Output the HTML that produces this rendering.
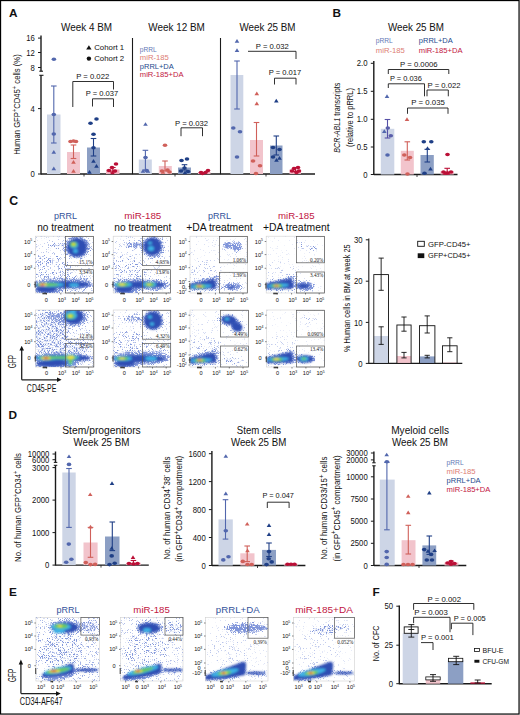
<!DOCTYPE html>
<html><head><meta charset="utf-8"><style>
html,body{margin:0;padding:0;background:#fff;}
body{width:520px;height:715px;overflow:hidden;}
svg{display:block;font-family:"Liberation Sans", sans-serif;color:#111;}

</style></head><body>
<svg width="520" height="715" viewBox="0 0 520 715" fill="#111">
<defs><filter id="bl" x="-20%" y="-20%" width="140%" height="140%"><feGaussianBlur stdDeviation="1.1"/></filter>
<filter id="spk" x="0" y="0" width="520" height="715" filterUnits="userSpaceOnUse" color-interpolation-filters="sRGB">
<feGaussianBlur in="SourceAlpha" stdDeviation="1.5" result="d"/>
<feTurbulence type="fractalNoise" baseFrequency="2.5" numOctaves="1" seed="5" result="n"/>
<feColorMatrix in="n" type="matrix" values="0 0 0 0 0  0 0 0 0 0  0 0 0 0 0  2.2 0 0 0 -0.6" result="na"/>
<feComposite in="d" in2="na" operator="arithmetic" k1="0" k2="2.6" k3="-2.6" k4="0" result="m"/>
<feFlood flood-color="#8095da"/>
<feComposite in2="m" operator="in"/>
<feGaussianBlur stdDeviation="0.55"/>
</filter>
<clipPath id="c0"><rect x="35.40" y="236.20" width="58.10" height="56.80"/></clipPath>
<clipPath id="c1"><rect x="113.20" y="236.20" width="57.20" height="56.80"/></clipPath>
<clipPath id="c2"><rect x="190.00" y="236.20" width="57.30" height="56.80"/></clipPath>
<clipPath id="c3"><rect x="266.20" y="236.20" width="58.40" height="56.80"/></clipPath>
<clipPath id="c4"><rect x="35.60" y="310.00" width="58.20" height="57.00"/></clipPath>
<clipPath id="c5"><rect x="113.20" y="310.00" width="57.50" height="57.00"/></clipPath>
<clipPath id="c6"><rect x="190.00" y="310.00" width="58.50" height="57.00"/></clipPath>
<clipPath id="c7"><rect x="266.60" y="310.00" width="58.00" height="57.00"/></clipPath>
<clipPath id="c8"><rect x="35.90" y="617.30" width="63.70" height="63.70"/></clipPath>
<clipPath id="c9"><rect x="120.50" y="617.30" width="62.50" height="63.70"/></clipPath>
<clipPath id="c10"><rect x="205.50" y="617.30" width="62.50" height="63.70"/></clipPath>
<clipPath id="c11"><rect x="293.50" y="617.30" width="61.00" height="63.70"/></clipPath></defs>
<rect x="0" y="0" width="520" height="715" fill="#fff"/>
<text x="9.00" y="17.30" font-size="11.8" font-weight="bold">A</text>
<text x="86.50" y="31.00" font-size="10.5" text-anchor="middle" textLength="51.0" lengthAdjust="spacingAndGlyphs">Week 4 BM</text>
<text x="176.50" y="31.00" font-size="10.5" text-anchor="middle" textLength="56.5" lengthAdjust="spacingAndGlyphs">Week 12 BM</text>
<text x="267.50" y="31.00" font-size="10.5" text-anchor="middle" textLength="56.0" lengthAdjust="spacingAndGlyphs">Week 25 BM</text>
<text x="20.30" y="104.50" font-size="9.5" text-anchor="middle" textLength="100.5" lengthAdjust="spacingAndGlyphs" transform="rotate(-90 20.30 104.50)">Human GFP<tspan font-size="7" dy="-3.6">+</tspan><tspan dy="3.6">CD45</tspan><tspan font-size="7" dy="-3.6">+</tspan><tspan dy="3.6"> cells (%)</tspan></text>
<line x1="41.00" y1="35.50" x2="41.00" y2="71.30" stroke="#1a1a1a" stroke-width="1.4"/>
<line x1="39.30" y1="71.20" x2="43.00" y2="71.20" stroke="#1a1a1a" stroke-width="1.1"/>
<line x1="39.30" y1="75.30" x2="43.50" y2="75.30" stroke="#1a1a1a" stroke-width="1.1"/>
<line x1="41.00" y1="75.30" x2="41.00" y2="174.50" stroke="#1a1a1a" stroke-width="1.4"/>
<line x1="38.00" y1="38.10" x2="41.00" y2="38.10" stroke="#1a1a1a" stroke-width="1.0"/>
<text x="34.80" y="41.27" font-size="8.8" text-anchor="end" textLength="8.6" lengthAdjust="spacingAndGlyphs">16</text>
<line x1="38.00" y1="52.50" x2="41.00" y2="52.50" stroke="#1a1a1a" stroke-width="1.0"/>
<text x="34.80" y="55.67" font-size="8.8" text-anchor="end" textLength="8.6" lengthAdjust="spacingAndGlyphs">12</text>
<line x1="38.00" y1="67.50" x2="41.00" y2="67.50" stroke="#1a1a1a" stroke-width="1.0"/>
<text x="34.80" y="70.67" font-size="8.8" text-anchor="end" textLength="4.3" lengthAdjust="spacingAndGlyphs">8</text>
<line x1="38.00" y1="108.60" x2="41.00" y2="108.60" stroke="#1a1a1a" stroke-width="1.0"/>
<text x="34.80" y="111.77" font-size="8.8" text-anchor="end" textLength="4.3" lengthAdjust="spacingAndGlyphs">4</text>
<line x1="38.00" y1="174.00" x2="41.00" y2="174.00" stroke="#1a1a1a" stroke-width="1.0"/>
<text x="34.80" y="177.17" font-size="8.8" text-anchor="end" textLength="4.3" lengthAdjust="spacingAndGlyphs">0</text>
<line x1="41.00" y1="174.00" x2="132.50" y2="174.00" stroke="#1a1a1a" stroke-width="1.4"/>
<line x1="84.00" y1="174.00" x2="84.00" y2="176.50" stroke="#1a1a1a" stroke-width="0.8"/>
<line x1="132.50" y1="38.00" x2="132.50" y2="174.50" stroke="#1a1a1a" stroke-width="1.1"/>
<line x1="132.50" y1="174.00" x2="220.50" y2="174.00" stroke="#1a1a1a" stroke-width="1.4"/>
<line x1="175.00" y1="174.00" x2="175.00" y2="176.50" stroke="#1a1a1a" stroke-width="0.8"/>
<line x1="220.50" y1="38.00" x2="220.50" y2="174.50" stroke="#1a1a1a" stroke-width="1.1"/>
<line x1="220.50" y1="174.00" x2="315.00" y2="174.00" stroke="#1a1a1a" stroke-width="1.4"/>
<line x1="266.00" y1="174.00" x2="266.00" y2="176.50" stroke="#1a1a1a" stroke-width="0.8"/>
<path d="M86.21,49.52L91.59,49.52L88.90,45.32Z" fill="#111"/>
<text x="94.20" y="50.40" font-size="7.6" textLength="30.0" lengthAdjust="spacingAndGlyphs">Cohort 1</text>
<ellipse cx="88.90" cy="58.60" rx="2.2" ry="2.2" fill="#111"/>
<text x="94.20" y="61.10" font-size="7.6" textLength="30.0" lengthAdjust="spacingAndGlyphs">Cohort 2</text>
<text x="139.80" y="51.60" font-size="7.4" fill="#6478b5" color="#6478b5" textLength="16.9" lengthAdjust="spacingAndGlyphs">pRRL</text>
<text x="139.80" y="60.20" font-size="7.4" fill="#dd7d74" color="#dd7d74" textLength="29.0" lengthAdjust="spacingAndGlyphs">miR-185</text>
<text x="139.80" y="68.80" font-size="7.4" fill="#264a8d" color="#264a8d" textLength="34.0" lengthAdjust="spacingAndGlyphs">pRRL+DA</text>
<text x="139.80" y="77.40" font-size="7.4" fill="#c2183f" color="#c2183f" textLength="43.8" lengthAdjust="spacingAndGlyphs">miR-185+DA</text>
<rect x="47.00" y="114.50" width="13.50" height="59.50" fill="#cdd5e6"/>
<rect x="67.00" y="152.00" width="13.00" height="22.00" fill="#f2c4cc"/>
<rect x="87.00" y="147.50" width="13.00" height="26.50" fill="#8c9fc4"/>
<rect x="106.00" y="169.50" width="13.50" height="4.50" fill="#f1b3c1"/>
<line x1="53.80" y1="86.00" x2="53.80" y2="143.00" stroke="#5267ad" stroke-width="1.1"/>
<line x1="51.00" y1="86.00" x2="56.60" y2="86.00" stroke="#5267ad" stroke-width="1.1"/>
<line x1="51.00" y1="143.00" x2="56.60" y2="143.00" stroke="#5267ad" stroke-width="1.1"/>
<line x1="73.50" y1="145.00" x2="73.50" y2="158.50" stroke="#d0605a" stroke-width="1.1"/>
<line x1="70.70" y1="145.00" x2="76.30" y2="145.00" stroke="#d0605a" stroke-width="1.1"/>
<line x1="70.70" y1="158.50" x2="76.30" y2="158.50" stroke="#d0605a" stroke-width="1.1"/>
<line x1="93.50" y1="138.50" x2="93.50" y2="156.00" stroke="#1f3f86" stroke-width="1.1"/>
<line x1="90.70" y1="138.50" x2="96.30" y2="138.50" stroke="#1f3f86" stroke-width="1.1"/>
<line x1="90.70" y1="156.00" x2="96.30" y2="156.00" stroke="#1f3f86" stroke-width="1.1"/>
<line x1="112.80" y1="167.50" x2="112.80" y2="172.00" stroke="#bb0f36" stroke-width="1.1"/>
<line x1="110.00" y1="167.50" x2="115.60" y2="167.50" stroke="#bb0f36" stroke-width="1.1"/>
<line x1="110.00" y1="172.00" x2="115.60" y2="172.00" stroke="#bb0f36" stroke-width="1.1"/>
<ellipse cx="53.90" cy="59.20" rx="2.3" ry="1.8" fill="#5267ad"/>
<ellipse cx="53.80" cy="114.50" rx="2.3" ry="1.8" fill="#5267ad"/>
<ellipse cx="53.80" cy="134.00" rx="2.3" ry="1.8" fill="#5267ad"/>
<path d="M51.50,153.64L56.10,153.64L53.80,150.05Z" fill="#5267ad"/>
<path d="M51.50,170.14L56.10,170.14L53.80,166.55Z" fill="#5267ad"/>
<ellipse cx="70.50" cy="141.50" rx="2.3" ry="1.8" fill="#d0605a"/>
<ellipse cx="76.00" cy="141.50" rx="2.3" ry="1.8" fill="#d0605a"/>
<ellipse cx="73.50" cy="141.00" rx="2.3" ry="1.8" fill="#d0605a"/>
<path d="M71.20,163.64L75.80,163.64L73.50,160.05Z" fill="#d0605a"/>
<path d="M71.20,172.64L75.80,172.64L73.50,169.05Z" fill="#d0605a"/>
<ellipse cx="90.50" cy="123.20" rx="2.3" ry="1.8" fill="#1f3f86"/>
<ellipse cx="96.50" cy="119.00" rx="2.3" ry="1.8" fill="#1f3f86"/>
<ellipse cx="93.50" cy="134.20" rx="2.3" ry="1.8" fill="#1f3f86"/>
<ellipse cx="93.50" cy="147.80" rx="2.3" ry="1.8" fill="#1f3f86"/>
<path d="M91.20,162.64L95.80,162.64L93.50,159.05Z" fill="#1f3f86"/>
<path d="M94.20,167.64L98.80,167.64L96.50,164.05Z" fill="#1f3f86"/>
<path d="M87.20,173.64L91.80,173.64L89.50,170.05Z" fill="#1f3f86"/>
<ellipse cx="112.00" cy="167.50" rx="2.3" ry="1.8" fill="#bb0f36"/>
<ellipse cx="116.00" cy="164.00" rx="2.3" ry="1.8" fill="#bb0f36"/>
<ellipse cx="109.00" cy="170.50" rx="2.3" ry="1.8" fill="#bb0f36"/>
<ellipse cx="115.00" cy="171.00" rx="2.3" ry="1.8" fill="#bb0f36"/>
<path d="M110.20,174.14L114.80,174.14L112.50,170.55Z" fill="#bb0f36"/>
<text x="92.70" y="79.20" font-size="7.4" text-anchor="middle" textLength="33.0" lengthAdjust="spacingAndGlyphs">P = 0.022</text>
<polyline points="72.80,107.00 72.80,81.50 113.50,81.50 113.50,89.50" fill="none" stroke="#1a1a1a" stroke-width="0.9"/>
<text x="102.00" y="96.40" font-size="7.4" text-anchor="middle" textLength="32.5" lengthAdjust="spacingAndGlyphs">P = 0.037</text>
<polyline points="92.50,106.50 92.50,98.80 113.50,98.80 113.50,107.00" fill="none" stroke="#1a1a1a" stroke-width="0.9"/>
<rect x="138.80" y="159.50" width="13.00" height="14.50" fill="#cdd5e6"/>
<rect x="158.80" y="166.00" width="13.00" height="8.00" fill="#f2c4cc"/>
<rect x="178.00" y="167.50" width="13.00" height="6.50" fill="#8c9fc4"/>
<rect x="198.00" y="172.00" width="12.50" height="2.00" fill="#f1b3c1"/>
<line x1="145.40" y1="150.30" x2="145.40" y2="170.00" stroke="#5267ad" stroke-width="1.1"/>
<line x1="142.60" y1="150.30" x2="148.20" y2="150.30" stroke="#5267ad" stroke-width="1.1"/>
<line x1="142.60" y1="170.00" x2="148.20" y2="170.00" stroke="#5267ad" stroke-width="1.1"/>
<line x1="165.00" y1="161.00" x2="165.00" y2="171.00" stroke="#d0605a" stroke-width="1.1"/>
<line x1="162.20" y1="161.00" x2="167.80" y2="161.00" stroke="#d0605a" stroke-width="1.1"/>
<line x1="162.20" y1="171.00" x2="167.80" y2="171.00" stroke="#d0605a" stroke-width="1.1"/>
<line x1="184.50" y1="164.70" x2="184.50" y2="170.00" stroke="#1f3f86" stroke-width="1.1"/>
<line x1="181.70" y1="164.70" x2="187.30" y2="164.70" stroke="#1f3f86" stroke-width="1.1"/>
<line x1="181.70" y1="170.00" x2="187.30" y2="170.00" stroke="#1f3f86" stroke-width="1.1"/>
<path d="M143.20,125.84L147.80,125.84L145.50,122.25Z" fill="#5267ad"/>
<ellipse cx="145.50" cy="157.50" rx="2.3" ry="1.8" fill="#5267ad"/>
<path d="M140.70,172.64L145.30,172.64L143.00,169.05Z" fill="#5267ad"/>
<ellipse cx="146.50" cy="170.50" rx="2.3" ry="1.8" fill="#5267ad"/>
<path d="M145.70,172.84L150.30,172.84L148.00,169.25Z" fill="#5267ad"/>
<ellipse cx="165.00" cy="145.20" rx="2.3" ry="1.8" fill="#d0605a"/>
<ellipse cx="162.00" cy="171.00" rx="2.3" ry="1.8" fill="#d0605a"/>
<ellipse cx="167.50" cy="170.00" rx="2.3" ry="1.8" fill="#d0605a"/>
<ellipse cx="169.50" cy="172.00" rx="2.3" ry="1.8" fill="#d0605a"/>
<path d="M160.70,173.64L165.30,173.64L163.00,170.05Z" fill="#d0605a"/>
<ellipse cx="181.50" cy="160.50" rx="2.3" ry="1.8" fill="#1f3f86"/>
<ellipse cx="187.00" cy="159.00" rx="2.3" ry="1.8" fill="#1f3f86"/>
<ellipse cx="184.50" cy="168.00" rx="2.3" ry="1.8" fill="#1f3f86"/>
<ellipse cx="181.00" cy="171.00" rx="2.3" ry="1.8" fill="#1f3f86"/>
<ellipse cx="188.00" cy="171.50" rx="2.3" ry="1.8" fill="#1f3f86"/>
<path d="M182.70,174.14L187.30,174.14L185.00,170.55Z" fill="#1f3f86"/>
<ellipse cx="201.00" cy="172.50" rx="2.3" ry="1.8" fill="#bb0f36"/>
<ellipse cx="205.50" cy="172.50" rx="2.3" ry="1.8" fill="#bb0f36"/>
<ellipse cx="208.00" cy="170.50" rx="2.3" ry="1.8" fill="#bb0f36"/>
<ellipse cx="202.50" cy="173.50" rx="2.3" ry="1.8" fill="#bb0f36"/>
<text x="191.50" y="125.70" font-size="7.4" text-anchor="middle" textLength="33.0" lengthAdjust="spacingAndGlyphs">P = 0.032</text>
<polyline points="181.00,136.20 181.00,127.80 202.50,127.80 202.50,136.20" fill="none" stroke="#1a1a1a" stroke-width="0.9"/>
<rect x="230.50" y="75.00" width="12.80" height="99.00" fill="#cdd5e6"/>
<rect x="250.00" y="140.00" width="13.00" height="34.00" fill="#f2c4cc"/>
<rect x="270.00" y="145.50" width="12.50" height="28.50" fill="#8c9fc4"/>
<rect x="289.50" y="169.50" width="11.50" height="4.50" fill="#f1b3c1"/>
<line x1="237.00" y1="61.00" x2="237.00" y2="109.00" stroke="#5267ad" stroke-width="1.1"/>
<line x1="234.20" y1="61.00" x2="239.80" y2="61.00" stroke="#5267ad" stroke-width="1.1"/>
<line x1="234.20" y1="109.00" x2="239.80" y2="109.00" stroke="#5267ad" stroke-width="1.1"/>
<line x1="256.50" y1="122.50" x2="256.50" y2="156.00" stroke="#d0605a" stroke-width="1.1"/>
<line x1="253.70" y1="122.50" x2="259.30" y2="122.50" stroke="#d0605a" stroke-width="1.1"/>
<line x1="253.70" y1="156.00" x2="259.30" y2="156.00" stroke="#d0605a" stroke-width="1.1"/>
<line x1="276.30" y1="136.00" x2="276.30" y2="155.00" stroke="#1f3f86" stroke-width="1.1"/>
<line x1="273.50" y1="136.00" x2="279.10" y2="136.00" stroke="#1f3f86" stroke-width="1.1"/>
<line x1="273.50" y1="155.00" x2="279.10" y2="155.00" stroke="#1f3f86" stroke-width="1.1"/>
<line x1="295.50" y1="167.50" x2="295.50" y2="171.50" stroke="#bb0f36" stroke-width="1.1"/>
<line x1="293.00" y1="167.50" x2="298.00" y2="167.50" stroke="#bb0f36" stroke-width="1.1"/>
<line x1="293.00" y1="171.50" x2="298.00" y2="171.50" stroke="#bb0f36" stroke-width="1.1"/>
<path d="M234.70,42.64L239.30,42.64L237.00,39.05Z" fill="#5267ad"/>
<path d="M234.70,51.94L239.30,51.94L237.00,48.35Z" fill="#5267ad"/>
<ellipse cx="233.30" cy="128.00" rx="2.3" ry="1.8" fill="#5267ad"/>
<ellipse cx="240.00" cy="131.80" rx="2.3" ry="1.8" fill="#5267ad"/>
<ellipse cx="237.00" cy="157.00" rx="2.3" ry="1.8" fill="#5267ad"/>
<path d="M254.50,95.14L259.10,95.14L256.80,91.55Z" fill="#d0605a"/>
<path d="M254.50,105.14L259.10,105.14L256.80,101.55Z" fill="#d0605a"/>
<ellipse cx="253.00" cy="161.00" rx="2.3" ry="1.8" fill="#d0605a"/>
<ellipse cx="260.00" cy="165.80" rx="2.3" ry="1.8" fill="#d0605a"/>
<ellipse cx="256.00" cy="173.50" rx="2.3" ry="1.8" fill="#d0605a"/>
<path d="M274.00,102.44L278.60,102.44L276.30,98.85Z" fill="#1f3f86"/>
<ellipse cx="273.00" cy="147.50" rx="2.3" ry="1.8" fill="#1f3f86"/>
<ellipse cx="279.50" cy="149.50" rx="2.3" ry="1.8" fill="#1f3f86"/>
<ellipse cx="273.00" cy="157.00" rx="2.3" ry="1.8" fill="#1f3f86"/>
<path d="M277.20,159.64L281.80,159.64L279.50,156.05Z" fill="#1f3f86"/>
<path d="M274.20,161.64L278.80,161.64L276.50,158.05Z" fill="#1f3f86"/>
<ellipse cx="294.00" cy="168.50" rx="2.3" ry="1.8" fill="#bb0f36"/>
<ellipse cx="298.00" cy="167.50" rx="2.3" ry="1.8" fill="#bb0f36"/>
<ellipse cx="292.00" cy="171.00" rx="2.3" ry="1.8" fill="#bb0f36"/>
<ellipse cx="296.50" cy="172.50" rx="2.3" ry="1.8" fill="#bb0f36"/>
<ellipse cx="299.00" cy="171.00" rx="2.3" ry="1.8" fill="#bb0f36"/>
<text x="272.30" y="49.00" font-size="7.4" text-anchor="middle" textLength="33.0" lengthAdjust="spacingAndGlyphs">P = 0.032</text>
<polyline points="248.00,51.30 296.00,51.30 296.00,59.00" fill="none" stroke="#1a1a1a" stroke-width="0.9"/>
<text x="285.00" y="75.00" font-size="7.4" text-anchor="middle" textLength="32.5" lengthAdjust="spacingAndGlyphs">P = 0.017</text>
<polyline points="274.50,84.50 274.50,78.20 296.00,78.20 296.00,84.50" fill="none" stroke="#1a1a1a" stroke-width="0.9"/>
<text x="332.50" y="17.20" font-size="11.8" font-weight="bold">B</text>
<text x="416.00" y="31.20" font-size="10.5" text-anchor="middle" textLength="56.0" lengthAdjust="spacingAndGlyphs">Week 25 BM</text>
<text x="375.80" y="43.00" font-size="7.4" fill="#6478b5" color="#6478b5" textLength="17.0" lengthAdjust="spacingAndGlyphs">pRRL</text>
<text x="375.80" y="52.50" font-size="7.4" fill="#dd7d74" color="#dd7d74" textLength="29.0" lengthAdjust="spacingAndGlyphs">miR-185</text>
<text x="418.80" y="43.00" font-size="7.4" fill="#264a8d" color="#264a8d" textLength="34.0" lengthAdjust="spacingAndGlyphs">pRRL+DA</text>
<text x="418.80" y="52.50" font-size="7.4" fill="#c2183f" color="#c2183f" textLength="43.8" lengthAdjust="spacingAndGlyphs">miR-185+DA</text>
<line x1="373.80" y1="61.00" x2="373.80" y2="175.00" stroke="#1a1a1a" stroke-width="1.4"/>
<line x1="373.80" y1="174.50" x2="457.50" y2="174.50" stroke="#1a1a1a" stroke-width="1.4"/>
<line x1="417.00" y1="174.50" x2="417.00" y2="177.00" stroke="#1a1a1a" stroke-width="0.8"/>
<line x1="370.80" y1="63.30" x2="373.80" y2="63.30" stroke="#1a1a1a" stroke-width="1.0"/>
<text x="367.60" y="66.47" font-size="8.8" text-anchor="end" textLength="10.8" lengthAdjust="spacingAndGlyphs">2.0</text>
<line x1="370.80" y1="91.30" x2="373.80" y2="91.30" stroke="#1a1a1a" stroke-width="1.0"/>
<text x="367.60" y="94.47" font-size="8.8" text-anchor="end" textLength="10.8" lengthAdjust="spacingAndGlyphs">1.5</text>
<line x1="370.80" y1="119.30" x2="373.80" y2="119.30" stroke="#1a1a1a" stroke-width="1.0"/>
<text x="367.60" y="122.47" font-size="8.8" text-anchor="end" textLength="10.8" lengthAdjust="spacingAndGlyphs">1.0</text>
<line x1="370.80" y1="147.00" x2="373.80" y2="147.00" stroke="#1a1a1a" stroke-width="1.0"/>
<text x="367.60" y="150.17" font-size="8.8" text-anchor="end" textLength="10.8" lengthAdjust="spacingAndGlyphs">0.5</text>
<line x1="370.80" y1="174.50" x2="373.80" y2="174.50" stroke="#1a1a1a" stroke-width="1.0"/>
<text x="367.60" y="177.67" font-size="8.8" text-anchor="end" textLength="4.3" lengthAdjust="spacingAndGlyphs">0</text>
<text x="340.30" y="117.70" font-size="9.3" text-anchor="middle" textLength="70.0" lengthAdjust="spacingAndGlyphs" transform="rotate(-90 340.30 117.70)"><tspan font-style="italic">BCR-ABL1</tspan> transcripts</text>
<text x="352.60" y="117.50" font-size="9.3" text-anchor="middle" textLength="59.0" lengthAdjust="spacingAndGlyphs" transform="rotate(-90 352.60 117.50)">(relative to pRRL)</text>
<rect x="380.80" y="128.80" width="13.50" height="45.70" fill="#cdd5e6"/>
<rect x="400.80" y="150.80" width="13.00" height="23.70" fill="#f2c4cc"/>
<rect x="420.50" y="155.00" width="13.30" height="19.50" fill="#8c9fc4"/>
<rect x="440.50" y="171.20" width="13.30" height="3.30" fill="#f1b3c1"/>
<line x1="387.50" y1="119.50" x2="387.50" y2="138.00" stroke="#5650a6" stroke-width="1.1"/>
<line x1="384.70" y1="119.50" x2="390.30" y2="119.50" stroke="#5650a6" stroke-width="1.1"/>
<line x1="384.70" y1="138.00" x2="390.30" y2="138.00" stroke="#5650a6" stroke-width="1.1"/>
<line x1="407.30" y1="141.80" x2="407.30" y2="160.00" stroke="#d0605a" stroke-width="1.1"/>
<line x1="404.50" y1="141.80" x2="410.10" y2="141.80" stroke="#d0605a" stroke-width="1.1"/>
<line x1="404.50" y1="160.00" x2="410.10" y2="160.00" stroke="#d0605a" stroke-width="1.1"/>
<line x1="427.30" y1="149.30" x2="427.30" y2="162.00" stroke="#1f3f86" stroke-width="1.1"/>
<line x1="424.50" y1="149.30" x2="430.10" y2="149.30" stroke="#1f3f86" stroke-width="1.1"/>
<line x1="424.50" y1="162.00" x2="430.10" y2="162.00" stroke="#1f3f86" stroke-width="1.1"/>
<line x1="447.20" y1="168.30" x2="447.20" y2="174.00" stroke="#bb0f36" stroke-width="1.1"/>
<line x1="444.40" y1="168.30" x2="450.00" y2="168.30" stroke="#bb0f36" stroke-width="1.1"/>
<line x1="444.40" y1="174.00" x2="450.00" y2="174.00" stroke="#bb0f36" stroke-width="1.1"/>
<path d="M384.70,97.94L389.30,97.94L387.00,94.35Z" fill="#5267ad"/>
<path d="M382.00,132.94L386.60,132.94L384.30,129.35Z" fill="#5267ad"/>
<ellipse cx="387.80" cy="128.00" rx="2.3" ry="1.8" fill="#5a5eaa"/>
<ellipse cx="390.80" cy="135.80" rx="2.3" ry="1.8" fill="#5a5eaa"/>
<ellipse cx="387.50" cy="155.00" rx="2.3" ry="1.8" fill="#5267ad"/>
<path d="M404.70,120.94L409.30,120.94L407.00,117.35Z" fill="#d0605a"/>
<ellipse cx="404.30" cy="155.00" rx="2.3" ry="1.8" fill="#d0605a"/>
<ellipse cx="410.00" cy="157.50" rx="2.3" ry="1.8" fill="#d0605a"/>
<ellipse cx="407.50" cy="174.00" rx="2.3" ry="1.8" fill="#d0605a"/>
<ellipse cx="423.80" cy="141.80" rx="2.3" ry="1.8" fill="#1f3f86"/>
<ellipse cx="431.30" cy="141.80" rx="2.3" ry="1.8" fill="#1f3f86"/>
<path d="M425.20,149.94L429.80,149.94L427.50,146.35Z" fill="#1f3f86"/>
<path d="M428.20,170.44L432.80,170.44L430.50,166.85Z" fill="#1f3f86"/>
<ellipse cx="424.50" cy="173.30" rx="2.3" ry="1.8" fill="#1f3f86"/>
<ellipse cx="447.50" cy="154.50" rx="2.3" ry="1.8" fill="#bb0f36"/>
<ellipse cx="443.50" cy="172.00" rx="2.3" ry="1.8" fill="#bb0f36"/>
<ellipse cx="447.50" cy="173.00" rx="2.3" ry="1.8" fill="#bb0f36"/>
<ellipse cx="451.00" cy="172.00" rx="2.3" ry="1.8" fill="#bb0f36"/>
<path d="M442.70,174.64L447.30,174.64L445.00,171.05Z" fill="#bb0f36"/>
<text x="418.80" y="66.70" font-size="7.4" text-anchor="middle" textLength="37.5" lengthAdjust="spacingAndGlyphs">P = 0.0006</text>
<polyline points="388.30,74.00 388.30,69.50 448.80,69.50 448.80,74.00" fill="none" stroke="#1a1a1a" stroke-width="0.9"/>
<text x="405.90" y="81.20" font-size="7.4" text-anchor="middle" textLength="32.0" lengthAdjust="spacingAndGlyphs">P = 0.036</text>
<polyline points="388.30,88.00 388.30,83.80 424.50,83.80 424.50,96.30" fill="none" stroke="#1a1a1a" stroke-width="0.9"/>
<text x="444.00" y="87.50" font-size="7.4" text-anchor="middle" textLength="33.0" lengthAdjust="spacingAndGlyphs">P = 0.022</text>
<polyline points="427.00,96.30 427.00,90.00 448.30,90.00 448.30,96.30" fill="none" stroke="#1a1a1a" stroke-width="0.9"/>
<text x="428.10" y="105.20" font-size="7.4" text-anchor="middle" textLength="33.5" lengthAdjust="spacingAndGlyphs">P = 0.035</text>
<polyline points="407.50,113.80 407.50,108.00 448.00,108.00 448.00,113.80" fill="none" stroke="#1a1a1a" stroke-width="0.9"/>
<text x="9.20" y="205.30" font-size="12.3" font-weight="bold">C</text>
<text x="65.50" y="219.30" font-size="9.8" text-anchor="middle" fill="#33539b" color="#33539b" textLength="23.0" lengthAdjust="spacingAndGlyphs">pRRL</text>
<text x="65.50" y="230.80" font-size="10.5" text-anchor="middle" textLength="56.6" lengthAdjust="spacingAndGlyphs">no treatment</text>
<text x="142.80" y="219.30" font-size="9.8" text-anchor="middle" fill="#bf1641" color="#bf1641" textLength="37.0" lengthAdjust="spacingAndGlyphs">miR-185</text>
<text x="142.80" y="230.80" font-size="10.5" text-anchor="middle" textLength="57.0" lengthAdjust="spacingAndGlyphs">no treatment</text>
<text x="219.40" y="219.30" font-size="9.8" text-anchor="middle" fill="#33539b" color="#33539b" textLength="23.0" lengthAdjust="spacingAndGlyphs">pRRL</text>
<text x="219.40" y="230.80" font-size="10.5" text-anchor="middle" textLength="66.5" lengthAdjust="spacingAndGlyphs">+DA treatment</text>
<text x="296.30" y="219.30" font-size="9.8" text-anchor="middle" fill="#bf1641" color="#bf1641" textLength="36.5" lengthAdjust="spacingAndGlyphs">miR-185</text>
<text x="296.30" y="230.80" font-size="10.5" text-anchor="middle" textLength="66.5" lengthAdjust="spacingAndGlyphs">+DA treatment</text>
<rect x="35.40" y="236.20" width="58.10" height="56.80" fill="#fff" stroke="#cfcfcf" stroke-width="0.6"/>
<g clip-path="url(#c0)"><g filter="url(#spk)">
<rect x="32.40" y="233.20" width="64.10" height="62.80" fill-opacity="0.19"/>
<ellipse cx="50" cy="270" rx="22" ry="16" fill-opacity="0.31"/>
<ellipse cx="57" cy="245.5" rx="9" ry="2.5" fill-opacity="0.56"/>
<ellipse cx="77" cy="247" rx="14" ry="12" fill-opacity="0.69"/>
<ellipse cx="62" cy="284.5" rx="32" ry="6" fill-opacity="0.75"/>
<ellipse cx="80" cy="283" rx="12" ry="8" fill-opacity="0.44"/>
<ellipse cx="48" cy="290" rx="14" ry="4" fill-opacity="1.00"/>
</g><g filter="url(#bl)">
<ellipse cx="77" cy="247.5" rx="10" ry="9.5" fill="#2d4db3"/>
<ellipse cx="62" cy="284.7" rx="28" ry="3.4" transform="rotate(-1 62 284.7)" fill="#2d4db3"/>
<ellipse cx="46" cy="289.5" rx="10" ry="3" fill="#2d4db3"/>
<ellipse cx="74" cy="245" rx="4" ry="3.2" fill="#3cb3e6"/>
<ellipse cx="75.5" cy="251" rx="2.5" ry="2" fill="#3cb3e6"/>
<ellipse cx="50" cy="284.7" rx="14" ry="2.2" fill="#3cb3e6"/>
<ellipse cx="74" cy="285" rx="5" ry="1.8" fill="#3cb3e6"/>
<ellipse cx="73.5" cy="244.5" rx="3.2" ry="2.4" fill="#6ac94f"/>
<ellipse cx="48" cy="284.7" rx="11" ry="1.5" fill="#6ac94f"/>
<ellipse cx="73.5" cy="244.2" rx="1.5" ry="1.2" fill="#efe13a"/>
<ellipse cx="43" cy="284.7" rx="4" ry="1.4" fill="#efe13a"/>
<ellipse cx="42.5" cy="284.7" rx="2" ry="1" fill="#e5482b"/>
</g></g>
<rect x="65.40" y="236.50" width="28.10" height="28.90" fill="none" stroke="#555" stroke-width="0.7"/>
<rect x="65.40" y="269.70" width="28.10" height="23.30" fill="none" stroke="#555" stroke-width="0.7"/>
<text x="92.30" y="274.40" font-size="5.2" text-anchor="end" fill="#1a1a1a" color="#1a1a1a" font-family="Liberation Serif">3.34%</text>
<text x="92.30" y="264.10" font-size="5.2" text-anchor="end" fill="#1a1a1a" color="#1a1a1a" font-family="Liberation Serif">15.1%</text>
<line x1="33.90" y1="241.50" x2="35.40" y2="241.50" stroke="#333" stroke-width="0.6"/>
<text x="32.20" y="243.50" font-size="5.6" text-anchor="end">10<tspan font-size="3.47" dy="-2.13">5</tspan></text>
<line x1="33.90" y1="254.60" x2="35.40" y2="254.60" stroke="#333" stroke-width="0.6"/>
<text x="32.20" y="256.60" font-size="5.6" text-anchor="end">10<tspan font-size="3.47" dy="-2.13">4</tspan></text>
<line x1="33.90" y1="268.30" x2="35.40" y2="268.30" stroke="#333" stroke-width="0.6"/>
<text x="32.20" y="270.30" font-size="5.6" text-anchor="end">10<tspan font-size="3.47" dy="-2.13">3</tspan></text>
<line x1="33.90" y1="284.60" x2="35.40" y2="284.60" stroke="#333" stroke-width="0.6"/>
<text x="30.40" y="286.60" font-size="5.6" text-anchor="end">0</text>
<line x1="46.40" y1="293.00" x2="46.40" y2="294.50" stroke="#333" stroke-width="0.6"/>
<text x="46.40" y="302.00" font-size="5.6" text-anchor="middle">0</text>
<line x1="60.80" y1="293.00" x2="60.80" y2="294.50" stroke="#333" stroke-width="0.6"/>
<text x="61.80" y="302.00" font-size="5.6" text-anchor="middle">10<tspan font-size="3.47" dy="-2.13">3</tspan></text>
<line x1="74.70" y1="293.00" x2="74.70" y2="294.50" stroke="#333" stroke-width="0.6"/>
<text x="75.70" y="302.00" font-size="5.6" text-anchor="middle">10<tspan font-size="3.47" dy="-2.13">4</tspan></text>
<line x1="88.40" y1="293.00" x2="88.40" y2="294.50" stroke="#333" stroke-width="0.6"/>
<text x="89.40" y="302.00" font-size="5.6" text-anchor="middle">10<tspan font-size="3.47" dy="-2.13">5</tspan></text>
<rect x="113.20" y="236.20" width="57.20" height="56.80" fill="#fff" stroke="#cfcfcf" stroke-width="0.6"/>
<g clip-path="url(#c1)"><g filter="url(#spk)">
<rect x="110.20" y="233.20" width="63.20" height="62.80" fill-opacity="0.19"/>
<ellipse cx="128" cy="270" rx="20" ry="14" fill-opacity="0.28"/>
<ellipse cx="134" cy="245" rx="9" ry="3.5" fill-opacity="0.75"/>
<ellipse cx="153" cy="247" rx="12" ry="12" fill-opacity="0.69"/>
<ellipse cx="140" cy="284.5" rx="32" ry="6" fill-opacity="0.75"/>
<ellipse cx="157" cy="286" rx="10" ry="6" fill-opacity="0.50"/>
<ellipse cx="126" cy="290" rx="13" ry="4" fill-opacity="1.00"/>
</g><g filter="url(#bl)">
<ellipse cx="152.5" cy="246.5" rx="9" ry="9" fill="#2d4db3"/>
<ellipse cx="139" cy="284.7" rx="26" ry="3.4" fill="#2d4db3"/>
<ellipse cx="124" cy="289.5" rx="9" ry="3" fill="#2d4db3"/>
<ellipse cx="151" cy="248.5" rx="3" ry="2.5" fill="#3cb3e6"/>
<ellipse cx="150" cy="243" rx="2" ry="1.5" fill="#3cb3e6"/>
<ellipse cx="123" cy="284.5" rx="9" ry="2.3" fill="#3cb3e6"/>
<ellipse cx="149.5" cy="284.5" rx="7" ry="2.5" fill="#3cb3e6"/>
<ellipse cx="122.5" cy="284.5" rx="6" ry="1.8" fill="#6ac94f"/>
<ellipse cx="149.5" cy="284.5" rx="4.5" ry="1.8" fill="#6ac94f"/>
<ellipse cx="122" cy="284.5" rx="3" ry="1.2" fill="#efe13a"/>
<ellipse cx="149" cy="284.5" rx="2" ry="1" fill="#efe13a"/>
</g></g>
<rect x="142.40" y="236.50" width="28.00" height="28.90" fill="none" stroke="#555" stroke-width="0.7"/>
<rect x="142.40" y="269.70" width="28.00" height="23.30" fill="none" stroke="#555" stroke-width="0.7"/>
<text x="169.20" y="274.40" font-size="5.2" text-anchor="end" fill="#1a1a1a" color="#1a1a1a" font-family="Liberation Serif">13.9%</text>
<text x="169.20" y="264.10" font-size="5.2" text-anchor="end" fill="#1a1a1a" color="#1a1a1a" font-family="Liberation Serif">4.93%</text>
<line x1="111.70" y1="241.50" x2="113.20" y2="241.50" stroke="#333" stroke-width="0.6"/>
<text x="110.00" y="243.50" font-size="5.6" text-anchor="end">10<tspan font-size="3.47" dy="-2.13">5</tspan></text>
<line x1="111.70" y1="254.60" x2="113.20" y2="254.60" stroke="#333" stroke-width="0.6"/>
<text x="110.00" y="256.60" font-size="5.6" text-anchor="end">10<tspan font-size="3.47" dy="-2.13">4</tspan></text>
<line x1="111.70" y1="268.30" x2="113.20" y2="268.30" stroke="#333" stroke-width="0.6"/>
<text x="110.00" y="270.30" font-size="5.6" text-anchor="end">10<tspan font-size="3.47" dy="-2.13">3</tspan></text>
<line x1="111.70" y1="284.60" x2="113.20" y2="284.60" stroke="#333" stroke-width="0.6"/>
<text x="108.20" y="286.60" font-size="5.6" text-anchor="end">0</text>
<line x1="124.20" y1="293.00" x2="124.20" y2="294.50" stroke="#333" stroke-width="0.6"/>
<text x="124.20" y="302.00" font-size="5.6" text-anchor="middle">0</text>
<line x1="138.60" y1="293.00" x2="138.60" y2="294.50" stroke="#333" stroke-width="0.6"/>
<text x="139.60" y="302.00" font-size="5.6" text-anchor="middle">10<tspan font-size="3.47" dy="-2.13">3</tspan></text>
<line x1="152.50" y1="293.00" x2="152.50" y2="294.50" stroke="#333" stroke-width="0.6"/>
<text x="153.50" y="302.00" font-size="5.6" text-anchor="middle">10<tspan font-size="3.47" dy="-2.13">4</tspan></text>
<line x1="166.20" y1="293.00" x2="166.20" y2="294.50" stroke="#333" stroke-width="0.6"/>
<text x="167.20" y="302.00" font-size="5.6" text-anchor="middle">10<tspan font-size="3.47" dy="-2.13">5</tspan></text>
<rect x="190.00" y="236.20" width="57.30" height="56.80" fill="#fff" stroke="#cfcfcf" stroke-width="0.6"/>
<g clip-path="url(#c2)"><g filter="url(#spk)">
<rect x="187.00" y="233.20" width="63.30" height="62.80" fill-opacity="0.11"/>
<ellipse cx="205" cy="272" rx="18" ry="12" fill-opacity="0.16"/>
<ellipse cx="228" cy="245.5" rx="5.5" ry="4" fill-opacity="1.00"/>
<ellipse cx="237" cy="247.5" rx="5" ry="5" fill-opacity="1.00"/>
<path d="M190,282 L217,275 Q221,283 218,290 L190,291 Z" fill-opacity="0.75"/>
<ellipse cx="233" cy="286.5" rx="9" ry="4" fill-opacity="1.00"/>
<ellipse cx="223" cy="287" rx="5" ry="3" fill-opacity="0.56"/>
</g><g filter="url(#bl)">
<path d="M190,284 L214,279 Q217,283.5 215.5,288.5 L190,289 Z" fill="#2d4db3"/>
<ellipse cx="231" cy="287" rx="3" ry="1.2" fill="#2d4db3"/>
<ellipse cx="201" cy="286.2" rx="11" ry="1.9" transform="rotate(-3 201 286.2)" fill="#3cb3e6"/>
<ellipse cx="200" cy="286.2" rx="5.5" ry="1.5" fill="#6ac94f"/>
<ellipse cx="199.5" cy="286.2" rx="3" ry="1.1" fill="#efe13a"/>
<ellipse cx="199.3" cy="286.1" rx="1.5" ry="0.8" fill="#e5482b"/>
</g></g>
<rect x="219.60" y="236.50" width="27.70" height="26.30" fill="none" stroke="#555" stroke-width="0.7"/>
<rect x="219.60" y="272.30" width="27.70" height="20.70" fill="none" stroke="#555" stroke-width="0.7"/>
<text x="246.10" y="277.00" font-size="5.2" text-anchor="end" fill="#1a1a1a" color="#1a1a1a" font-family="Liberation Serif">1.39%</text>
<text x="246.10" y="261.50" font-size="5.2" text-anchor="end" fill="#1a1a1a" color="#1a1a1a" font-family="Liberation Serif">1.06%</text>
<line x1="188.50" y1="241.50" x2="190.00" y2="241.50" stroke="#333" stroke-width="0.6"/>
<text x="186.80" y="243.50" font-size="5.6" text-anchor="end">10<tspan font-size="3.47" dy="-2.13">5</tspan></text>
<line x1="188.50" y1="254.60" x2="190.00" y2="254.60" stroke="#333" stroke-width="0.6"/>
<text x="186.80" y="256.60" font-size="5.6" text-anchor="end">10<tspan font-size="3.47" dy="-2.13">4</tspan></text>
<line x1="188.50" y1="267.70" x2="190.00" y2="267.70" stroke="#333" stroke-width="0.6"/>
<text x="186.80" y="269.70" font-size="5.6" text-anchor="end">10<tspan font-size="3.47" dy="-2.13">3</tspan></text>
<line x1="188.50" y1="281.50" x2="190.00" y2="281.50" stroke="#333" stroke-width="0.6"/>
<text x="186.80" y="283.50" font-size="5.6" text-anchor="end">10<tspan font-size="3.47" dy="-2.13">2</tspan></text>
<line x1="188.50" y1="286.50" x2="190.00" y2="286.50" stroke="#333" stroke-width="0.6"/>
<text x="185.00" y="288.50" font-size="5.6" text-anchor="end">0</text>
<line x1="188.50" y1="291.50" x2="190.00" y2="291.50" stroke="#333" stroke-width="0.6"/>
<text x="186.80" y="293.50" font-size="5.6" text-anchor="end">-10<tspan font-size="3.47" dy="-2.13">2</tspan></text>
<line x1="201.00" y1="293.00" x2="201.00" y2="294.50" stroke="#333" stroke-width="0.6"/>
<text x="201.00" y="302.00" font-size="5.6" text-anchor="middle">0</text>
<line x1="215.40" y1="293.00" x2="215.40" y2="294.50" stroke="#333" stroke-width="0.6"/>
<text x="216.40" y="302.00" font-size="5.6" text-anchor="middle">10<tspan font-size="3.47" dy="-2.13">3</tspan></text>
<line x1="229.30" y1="293.00" x2="229.30" y2="294.50" stroke="#333" stroke-width="0.6"/>
<text x="230.30" y="302.00" font-size="5.6" text-anchor="middle">10<tspan font-size="3.47" dy="-2.13">4</tspan></text>
<line x1="243.00" y1="293.00" x2="243.00" y2="294.50" stroke="#333" stroke-width="0.6"/>
<text x="244.00" y="302.00" font-size="5.6" text-anchor="middle">10<tspan font-size="3.47" dy="-2.13">5</tspan></text>
<rect x="266.20" y="236.20" width="58.40" height="56.80" fill="#fff" stroke="#cfcfcf" stroke-width="0.6"/>
<g clip-path="url(#c3)"><g filter="url(#spk)">
<rect x="263.20" y="233.20" width="64.40" height="62.80" fill-opacity="0.08"/>
<ellipse cx="282" cy="272" rx="18" ry="12" fill-opacity="0.12"/>
<ellipse cx="301" cy="245" rx="5" ry="3" fill-opacity="0.50"/>
<ellipse cx="312" cy="248" rx="5" ry="3" fill-opacity="0.50"/>
<path d="M266,282 L294,275 Q298,283 295,290 L266,291 Z" fill-opacity="0.75"/>
<ellipse cx="305" cy="286" rx="10" ry="5" fill-opacity="0.94"/>
</g><g filter="url(#bl)">
<path d="M266,283.5 L291,278.5 Q294,283.5 292.5,288.5 L266,289 Z" fill="#2d4db3"/>
<ellipse cx="303.5" cy="286" rx="6" ry="2.3" fill="#2d4db3"/>
<ellipse cx="278" cy="285.6" rx="11" ry="1.9" transform="rotate(-3 278 285.6)" fill="#3cb3e6"/>
<ellipse cx="277" cy="285.7" rx="5.5" ry="1.5" fill="#6ac94f"/>
<ellipse cx="276.6" cy="285.7" rx="3" ry="1.1" fill="#efe13a"/>
<ellipse cx="276.5" cy="285.7" rx="1.5" ry="0.8" fill="#e5482b"/>
</g></g>
<rect x="296.50" y="236.50" width="28.10" height="26.30" fill="none" stroke="#555" stroke-width="0.7"/>
<rect x="296.50" y="272.00" width="28.10" height="21.00" fill="none" stroke="#555" stroke-width="0.7"/>
<text x="323.40" y="276.70" font-size="5.2" text-anchor="end" fill="#1a1a1a" color="#1a1a1a" font-family="Liberation Serif">3.43%</text>
<text x="323.40" y="261.50" font-size="5.2" text-anchor="end" fill="#1a1a1a" color="#1a1a1a" font-family="Liberation Serif">0.20%</text>
<line x1="264.70" y1="241.50" x2="266.20" y2="241.50" stroke="#333" stroke-width="0.6"/>
<text x="263.00" y="243.50" font-size="5.6" text-anchor="end">10<tspan font-size="3.47" dy="-2.13">5</tspan></text>
<line x1="264.70" y1="254.60" x2="266.20" y2="254.60" stroke="#333" stroke-width="0.6"/>
<text x="263.00" y="256.60" font-size="5.6" text-anchor="end">10<tspan font-size="3.47" dy="-2.13">4</tspan></text>
<line x1="264.70" y1="268.30" x2="266.20" y2="268.30" stroke="#333" stroke-width="0.6"/>
<text x="263.00" y="270.30" font-size="5.6" text-anchor="end">10<tspan font-size="3.47" dy="-2.13">3</tspan></text>
<line x1="264.70" y1="284.60" x2="266.20" y2="284.60" stroke="#333" stroke-width="0.6"/>
<text x="261.20" y="286.60" font-size="5.6" text-anchor="end">0</text>
<line x1="277.20" y1="293.00" x2="277.20" y2="294.50" stroke="#333" stroke-width="0.6"/>
<text x="277.20" y="302.00" font-size="5.6" text-anchor="middle">0</text>
<line x1="291.60" y1="293.00" x2="291.60" y2="294.50" stroke="#333" stroke-width="0.6"/>
<text x="292.60" y="302.00" font-size="5.6" text-anchor="middle">10<tspan font-size="3.47" dy="-2.13">3</tspan></text>
<line x1="305.50" y1="293.00" x2="305.50" y2="294.50" stroke="#333" stroke-width="0.6"/>
<text x="306.50" y="302.00" font-size="5.6" text-anchor="middle">10<tspan font-size="3.47" dy="-2.13">4</tspan></text>
<line x1="319.20" y1="293.00" x2="319.20" y2="294.50" stroke="#333" stroke-width="0.6"/>
<text x="320.20" y="302.00" font-size="5.6" text-anchor="middle">10<tspan font-size="3.47" dy="-2.13">5</tspan></text>
<rect x="35.60" y="310.00" width="58.20" height="57.00" fill="#fff" stroke="#cfcfcf" stroke-width="0.6"/>
<g clip-path="url(#c4)"><g filter="url(#spk)">
<rect x="32.60" y="307.00" width="64.20" height="63.00" fill-opacity="0.26"/>
<ellipse cx="50" cy="335" rx="20" ry="25" fill-opacity="0.44"/>
<ellipse cx="58" cy="318" rx="10" ry="5" fill-opacity="0.56"/>
<ellipse cx="74" cy="317" rx="14" ry="10" fill-opacity="0.75"/>
<ellipse cx="62" cy="358" rx="32" ry="5" fill-opacity="0.81"/>
<ellipse cx="78" cy="348" rx="12" ry="8" fill-opacity="0.44"/>
<ellipse cx="55" cy="364" rx="24" ry="4" fill-opacity="1.00"/>
</g><g filter="url(#bl)">
<ellipse cx="73.5" cy="316.5" rx="10" ry="7.5" fill="#2d4db3"/>
<ellipse cx="62" cy="358" rx="28" ry="3.3" fill="#2d4db3"/>
<ellipse cx="52" cy="363.5" rx="16" ry="3" fill="#2d4db3"/>
<ellipse cx="71" cy="315.5" rx="6" ry="4" fill="#3cb3e6"/>
<ellipse cx="73" cy="311" rx="3" ry="2" fill="#3cb3e6"/>
<ellipse cx="47" cy="358" rx="10" ry="2.5" fill="#3cb3e6"/>
<ellipse cx="58" cy="357.6" rx="22" ry="1.9" fill="#3cb3e6"/>
<ellipse cx="70.5" cy="357.5" rx="7" ry="3.2" fill="#3cb3e6"/>
<ellipse cx="70.5" cy="362" rx="2.2" ry="3.5" fill="#3cb3e6"/>
<ellipse cx="70.5" cy="316" rx="4" ry="2.6" fill="#6ac94f"/>
<ellipse cx="47" cy="358" rx="7" ry="1.8" fill="#6ac94f"/>
<ellipse cx="58" cy="357.6" rx="20" ry="1.1" fill="#6ac94f"/>
<ellipse cx="70.5" cy="357.5" rx="5" ry="2.3" fill="#6ac94f"/>
<ellipse cx="70.5" cy="361.5" rx="1.6" ry="3" fill="#6ac94f"/>
<ellipse cx="70.3" cy="316" rx="2" ry="1.5" fill="#efe13a"/>
<ellipse cx="46" cy="358" rx="4.5" ry="1.6" fill="#efe13a"/>
<ellipse cx="70.5" cy="357.3" rx="3.5" ry="1.8" fill="#efe13a"/>
<ellipse cx="46" cy="358" rx="2.5" ry="1.1" fill="#e5482b"/>
</g></g>
<rect x="65.40" y="310.30" width="28.40" height="28.90" fill="none" stroke="#555" stroke-width="0.7"/>
<rect x="65.40" y="343.50" width="28.40" height="23.50" fill="none" stroke="#555" stroke-width="0.7"/>
<text x="92.60" y="348.20" font-size="5.2" text-anchor="end" fill="#1a1a1a" color="#1a1a1a" font-family="Liberation Serif">32.6%</text>
<text x="92.60" y="337.90" font-size="5.2" text-anchor="end" fill="#1a1a1a" color="#1a1a1a" font-family="Liberation Serif">12.8%</text>
<line x1="34.10" y1="315.20" x2="35.60" y2="315.20" stroke="#333" stroke-width="0.6"/>
<text x="32.40" y="317.20" font-size="5.6" text-anchor="end">10<tspan font-size="3.47" dy="-2.13">5</tspan></text>
<line x1="34.10" y1="328.00" x2="35.60" y2="328.00" stroke="#333" stroke-width="0.6"/>
<text x="32.40" y="330.00" font-size="5.6" text-anchor="end">10<tspan font-size="3.47" dy="-2.13">4</tspan></text>
<line x1="34.10" y1="341.70" x2="35.60" y2="341.70" stroke="#333" stroke-width="0.6"/>
<text x="32.40" y="343.70" font-size="5.6" text-anchor="end">10<tspan font-size="3.47" dy="-2.13">3</tspan></text>
<line x1="34.10" y1="357.90" x2="35.60" y2="357.90" stroke="#333" stroke-width="0.6"/>
<text x="30.60" y="359.90" font-size="5.6" text-anchor="end">0</text>
<line x1="46.60" y1="367.00" x2="46.60" y2="368.50" stroke="#333" stroke-width="0.6"/>
<text x="46.60" y="374.90" font-size="5.6" text-anchor="middle">0</text>
<line x1="61.00" y1="367.00" x2="61.00" y2="368.50" stroke="#333" stroke-width="0.6"/>
<text x="62.00" y="374.90" font-size="5.6" text-anchor="middle">10<tspan font-size="3.47" dy="-2.13">3</tspan></text>
<line x1="74.90" y1="367.00" x2="74.90" y2="368.50" stroke="#333" stroke-width="0.6"/>
<text x="75.90" y="374.90" font-size="5.6" text-anchor="middle">10<tspan font-size="3.47" dy="-2.13">4</tspan></text>
<line x1="88.60" y1="367.00" x2="88.60" y2="368.50" stroke="#333" stroke-width="0.6"/>
<text x="89.60" y="374.90" font-size="5.6" text-anchor="middle">10<tspan font-size="3.47" dy="-2.13">5</tspan></text>
<rect x="113.20" y="310.00" width="57.50" height="57.00" fill="#fff" stroke="#cfcfcf" stroke-width="0.6"/>
<g clip-path="url(#c5)"><g filter="url(#spk)">
<rect x="110.20" y="307.00" width="63.50" height="63.00" fill-opacity="0.19"/>
<ellipse cx="128" cy="345" rx="20" ry="14" fill-opacity="0.28"/>
<ellipse cx="134" cy="319" rx="10" ry="3.5" fill-opacity="0.75"/>
<ellipse cx="153" cy="320" rx="11" ry="11" fill-opacity="0.69"/>
<ellipse cx="140" cy="358" rx="32" ry="7" fill-opacity="0.75"/>
<ellipse cx="157" cy="356" rx="10" ry="8" fill-opacity="0.50"/>
<ellipse cx="127" cy="364" rx="14" ry="4" fill-opacity="1.00"/>
</g><g filter="url(#bl)">
<ellipse cx="153" cy="320.5" rx="9" ry="9" fill="#2d4db3"/>
<ellipse cx="139" cy="358.5" rx="26" ry="3.6" fill="#2d4db3"/>
<ellipse cx="125" cy="363.5" rx="10" ry="3" fill="#2d4db3"/>
<ellipse cx="150" cy="317" rx="2.2" ry="1.8" fill="#3cb3e6"/>
<ellipse cx="152" cy="324" rx="2.2" ry="1.8" fill="#3cb3e6"/>
<ellipse cx="123" cy="358.5" rx="9" ry="2.3" fill="#3cb3e6"/>
<ellipse cx="151" cy="358.5" rx="6" ry="2" fill="#3cb3e6"/>
<ellipse cx="122.5" cy="358.5" rx="6" ry="1.6" fill="#6ac94f"/>
<ellipse cx="122" cy="358.5" rx="3" ry="1.1" fill="#efe13a"/>
</g></g>
<rect x="142.40" y="310.30" width="28.30" height="28.90" fill="none" stroke="#555" stroke-width="0.7"/>
<rect x="142.40" y="343.40" width="28.30" height="23.60" fill="none" stroke="#555" stroke-width="0.7"/>
<text x="169.50" y="348.10" font-size="5.2" text-anchor="end" fill="#1a1a1a" color="#1a1a1a" font-family="Liberation Serif">6.49%</text>
<text x="169.50" y="337.90" font-size="5.2" text-anchor="end" fill="#1a1a1a" color="#1a1a1a" font-family="Liberation Serif">4.32%</text>
<line x1="111.70" y1="315.20" x2="113.20" y2="315.20" stroke="#333" stroke-width="0.6"/>
<text x="110.00" y="317.20" font-size="5.6" text-anchor="end">10<tspan font-size="3.47" dy="-2.13">5</tspan></text>
<line x1="111.70" y1="328.00" x2="113.20" y2="328.00" stroke="#333" stroke-width="0.6"/>
<text x="110.00" y="330.00" font-size="5.6" text-anchor="end">10<tspan font-size="3.47" dy="-2.13">4</tspan></text>
<line x1="111.70" y1="341.70" x2="113.20" y2="341.70" stroke="#333" stroke-width="0.6"/>
<text x="110.00" y="343.70" font-size="5.6" text-anchor="end">10<tspan font-size="3.47" dy="-2.13">3</tspan></text>
<line x1="111.70" y1="357.90" x2="113.20" y2="357.90" stroke="#333" stroke-width="0.6"/>
<text x="108.20" y="359.90" font-size="5.6" text-anchor="end">0</text>
<line x1="124.20" y1="367.00" x2="124.20" y2="368.50" stroke="#333" stroke-width="0.6"/>
<text x="124.20" y="374.90" font-size="5.6" text-anchor="middle">0</text>
<line x1="138.60" y1="367.00" x2="138.60" y2="368.50" stroke="#333" stroke-width="0.6"/>
<text x="139.60" y="374.90" font-size="5.6" text-anchor="middle">10<tspan font-size="3.47" dy="-2.13">3</tspan></text>
<line x1="152.50" y1="367.00" x2="152.50" y2="368.50" stroke="#333" stroke-width="0.6"/>
<text x="153.50" y="374.90" font-size="5.6" text-anchor="middle">10<tspan font-size="3.47" dy="-2.13">4</tspan></text>
<line x1="166.20" y1="367.00" x2="166.20" y2="368.50" stroke="#333" stroke-width="0.6"/>
<text x="167.20" y="374.90" font-size="5.6" text-anchor="middle">10<tspan font-size="3.47" dy="-2.13">5</tspan></text>
<rect x="190.00" y="310.00" width="58.50" height="57.00" fill="#fff" stroke="#cfcfcf" stroke-width="0.6"/>
<g clip-path="url(#c6)"><g filter="url(#spk)">
<rect x="187.00" y="307.00" width="64.50" height="63.00" fill-opacity="0.13"/>
<ellipse cx="205" cy="348" rx="18" ry="12" fill-opacity="0.16"/>
<ellipse cx="222" cy="318" rx="8" ry="3" fill-opacity="0.38"/>
<ellipse cx="230" cy="321" rx="10" ry="6" fill-opacity="0.69"/>
<ellipse cx="237" cy="327" rx="7" ry="6" fill-opacity="0.62"/>
<path d="M190,356 L217,348 Q221,357 218,364 L190,365 Z" fill-opacity="0.75"/>
<ellipse cx="229" cy="360" rx="6" ry="3" fill-opacity="0.56"/>
<ellipse cx="238" cy="362" rx="5" ry="3" fill-opacity="0.44"/>
</g><g filter="url(#bl)">
<ellipse cx="229" cy="320" rx="7.5" ry="4.5" transform="rotate(10 229 320)" fill="#2d4db3"/>
<ellipse cx="237" cy="327" rx="5.5" ry="4.5" transform="rotate(20 237 327)" fill="#2d4db3"/>
<path d="M190,358 L214,352.5 Q217,357.5 215.5,362.5 L190,363.5 Z" fill="#2d4db3"/>
<ellipse cx="227" cy="319" rx="2.5" ry="1.5" fill="#3cb3e6"/>
<ellipse cx="201" cy="360.2" rx="11" ry="1.9" transform="rotate(-3 201 360.2)" fill="#3cb3e6"/>
<ellipse cx="200.2" cy="360.2" rx="5.5" ry="1.5" fill="#6ac94f"/>
<ellipse cx="199.8" cy="360.2" rx="3" ry="1.1" fill="#efe13a"/>
<ellipse cx="199.6" cy="360.1" rx="1.5" ry="0.8" fill="#e5482b"/>
</g></g>
<rect x="220.40" y="310.30" width="28.10" height="26.70" fill="none" stroke="#555" stroke-width="0.7"/>
<rect x="220.40" y="346.00" width="28.10" height="21.00" fill="none" stroke="#555" stroke-width="0.7"/>
<text x="247.30" y="350.70" font-size="5.2" text-anchor="end" fill="#1a1a1a" color="#1a1a1a" font-family="Liberation Serif">0.62%</text>
<text x="247.30" y="335.70" font-size="5.2" text-anchor="end" fill="#1a1a1a" color="#1a1a1a" font-family="Liberation Serif">4.49%</text>
<line x1="188.50" y1="315.20" x2="190.00" y2="315.20" stroke="#333" stroke-width="0.6"/>
<text x="186.80" y="317.20" font-size="5.6" text-anchor="end">10<tspan font-size="3.47" dy="-2.13">5</tspan></text>
<line x1="188.50" y1="328.00" x2="190.00" y2="328.00" stroke="#333" stroke-width="0.6"/>
<text x="186.80" y="330.00" font-size="5.6" text-anchor="end">10<tspan font-size="3.47" dy="-2.13">4</tspan></text>
<line x1="188.50" y1="341.20" x2="190.00" y2="341.20" stroke="#333" stroke-width="0.6"/>
<text x="186.80" y="343.20" font-size="5.6" text-anchor="end">10<tspan font-size="3.47" dy="-2.13">3</tspan></text>
<line x1="188.50" y1="355.00" x2="190.00" y2="355.00" stroke="#333" stroke-width="0.6"/>
<text x="186.80" y="357.00" font-size="5.6" text-anchor="end">10<tspan font-size="3.47" dy="-2.13">2</tspan></text>
<line x1="188.50" y1="360.00" x2="190.00" y2="360.00" stroke="#333" stroke-width="0.6"/>
<text x="185.00" y="362.00" font-size="5.6" text-anchor="end">0</text>
<line x1="188.50" y1="365.00" x2="190.00" y2="365.00" stroke="#333" stroke-width="0.6"/>
<text x="186.80" y="367.00" font-size="5.6" text-anchor="end">-10<tspan font-size="3.47" dy="-2.13">2</tspan></text>
<line x1="201.00" y1="367.00" x2="201.00" y2="368.50" stroke="#333" stroke-width="0.6"/>
<text x="201.00" y="374.90" font-size="5.6" text-anchor="middle">0</text>
<line x1="215.40" y1="367.00" x2="215.40" y2="368.50" stroke="#333" stroke-width="0.6"/>
<text x="216.40" y="374.90" font-size="5.6" text-anchor="middle">10<tspan font-size="3.47" dy="-2.13">3</tspan></text>
<line x1="229.30" y1="367.00" x2="229.30" y2="368.50" stroke="#333" stroke-width="0.6"/>
<text x="230.30" y="374.90" font-size="5.6" text-anchor="middle">10<tspan font-size="3.47" dy="-2.13">4</tspan></text>
<line x1="243.00" y1="367.00" x2="243.00" y2="368.50" stroke="#333" stroke-width="0.6"/>
<text x="244.00" y="374.90" font-size="5.6" text-anchor="middle">10<tspan font-size="3.47" dy="-2.13">5</tspan></text>
<rect x="266.60" y="310.00" width="58.00" height="57.00" fill="#fff" stroke="#cfcfcf" stroke-width="0.6"/>
<g clip-path="url(#c7)"><g filter="url(#spk)">
<rect x="263.60" y="307.00" width="64.00" height="63.00" fill-opacity="0.08"/>
<ellipse cx="282" cy="348" rx="18" ry="12" fill-opacity="0.12"/>
<ellipse cx="310" cy="320" rx="8" ry="6" fill-opacity="0.19"/>
<path d="M266.6,356 L294,349 Q298,357 295,364 L266.6,365 Z" fill-opacity="0.75"/>
<ellipse cx="305" cy="359" rx="11" ry="5" fill-opacity="0.75"/>
</g><g filter="url(#bl)">
<path d="M266.6,357.5 L291,352 Q294,357 292.5,362.5 L266.6,363 Z" fill="#2d4db3"/>
<ellipse cx="305" cy="359" rx="8.5" ry="3.8" fill="#2d4db3"/>
<ellipse cx="278" cy="359.2" rx="11" ry="1.9" transform="rotate(-3 278 359.2)" fill="#3cb3e6"/>
<ellipse cx="304" cy="358.8" rx="4.5" ry="2.3" fill="#3cb3e6"/>
<ellipse cx="277" cy="359.2" rx="5.5" ry="1.5" fill="#6ac94f"/>
<ellipse cx="303.8" cy="358.7" rx="2.3" ry="1.3" fill="#6ac94f"/>
<ellipse cx="276.4" cy="359.2" rx="3" ry="1.1" fill="#efe13a"/>
</g></g>
<rect x="296.50" y="310.30" width="28.10" height="26.70" fill="none" stroke="#555" stroke-width="0.7"/>
<rect x="296.50" y="346.00" width="28.10" height="21.00" fill="none" stroke="#555" stroke-width="0.7"/>
<text x="323.40" y="350.70" font-size="5.2" text-anchor="end" fill="#1a1a1a" color="#1a1a1a" font-family="Liberation Serif">13.4%</text>
<text x="323.40" y="335.70" font-size="5.2" text-anchor="end" fill="#1a1a1a" color="#1a1a1a" font-family="Liberation Serif">0.090%</text>
<line x1="265.10" y1="315.20" x2="266.60" y2="315.20" stroke="#333" stroke-width="0.6"/>
<text x="263.40" y="317.20" font-size="5.6" text-anchor="end">10<tspan font-size="3.47" dy="-2.13">5</tspan></text>
<line x1="265.10" y1="328.00" x2="266.60" y2="328.00" stroke="#333" stroke-width="0.6"/>
<text x="263.40" y="330.00" font-size="5.6" text-anchor="end">10<tspan font-size="3.47" dy="-2.13">4</tspan></text>
<line x1="265.10" y1="341.70" x2="266.60" y2="341.70" stroke="#333" stroke-width="0.6"/>
<text x="263.40" y="343.70" font-size="5.6" text-anchor="end">10<tspan font-size="3.47" dy="-2.13">3</tspan></text>
<line x1="265.10" y1="357.90" x2="266.60" y2="357.90" stroke="#333" stroke-width="0.6"/>
<text x="261.60" y="359.90" font-size="5.6" text-anchor="end">0</text>
<line x1="277.60" y1="367.00" x2="277.60" y2="368.50" stroke="#333" stroke-width="0.6"/>
<text x="277.60" y="374.90" font-size="5.6" text-anchor="middle">0</text>
<line x1="292.00" y1="367.00" x2="292.00" y2="368.50" stroke="#333" stroke-width="0.6"/>
<text x="293.00" y="374.90" font-size="5.6" text-anchor="middle">10<tspan font-size="3.47" dy="-2.13">3</tspan></text>
<line x1="305.90" y1="367.00" x2="305.90" y2="368.50" stroke="#333" stroke-width="0.6"/>
<text x="306.90" y="374.90" font-size="5.6" text-anchor="middle">10<tspan font-size="3.47" dy="-2.13">4</tspan></text>
<line x1="319.60" y1="367.00" x2="319.60" y2="368.50" stroke="#333" stroke-width="0.6"/>
<text x="320.60" y="374.90" font-size="5.6" text-anchor="middle">10<tspan font-size="3.47" dy="-2.13">5</tspan></text>
<rect x="42.4" y="292.7" width="4.5" height="1.6" fill="#222" fill-opacity="0.85"/>
<rect x="34.5" y="281.5" width="1.3" height="6" fill="#222" fill-opacity="0.7"/>
<rect x="120.2" y="292.7" width="4.5" height="1.6" fill="#222" fill-opacity="0.85"/>
<rect x="112.3" y="281.5" width="1.3" height="6" fill="#222" fill-opacity="0.7"/>
<rect x="197.0" y="292.7" width="4.5" height="1.6" fill="#222" fill-opacity="0.85"/>
<rect x="189.1" y="283.2" width="1.3" height="6" fill="#222" fill-opacity="0.7"/>
<rect x="273.2" y="292.7" width="4.5" height="1.6" fill="#222" fill-opacity="0.85"/>
<rect x="265.3" y="282.7" width="1.3" height="6" fill="#222" fill-opacity="0.7"/>
<rect x="42.6" y="366.7" width="4.5" height="1.6" fill="#222" fill-opacity="0.85"/>
<rect x="34.7" y="355.5" width="1.3" height="6" fill="#222" fill-opacity="0.7"/>
<rect x="120.2" y="366.7" width="4.5" height="1.6" fill="#222" fill-opacity="0.85"/>
<rect x="112.3" y="355.5" width="1.3" height="6" fill="#222" fill-opacity="0.7"/>
<rect x="197.0" y="366.7" width="4.5" height="1.6" fill="#222" fill-opacity="0.85"/>
<rect x="189.1" y="357.2" width="1.3" height="6" fill="#222" fill-opacity="0.7"/>
<rect x="273.6" y="366.7" width="4.5" height="1.6" fill="#222" fill-opacity="0.85"/>
<rect x="265.7" y="356.2" width="1.3" height="6" fill="#222" fill-opacity="0.7"/>
<path d="M21.7,379.8V350M21.7,379.8H57.5" stroke="#222" stroke-width="1.3" fill="none"/>
<path d="M19.4,350.6L21.7,345.8L24,350.6Z M57,377.5L61.6,379.8L57,382.1Z" fill="#111"/>
<text x="16.40" y="361.50" font-size="10" text-anchor="middle" textLength="12.8" lengthAdjust="spacingAndGlyphs" transform="rotate(-90 16.40 361.50)">GFP</text>
<text x="41.60" y="391.50" font-size="10" text-anchor="middle" textLength="29.5" lengthAdjust="spacingAndGlyphs">CD45-PE</text>
<line x1="368.80" y1="238.50" x2="368.80" y2="364.00" stroke="#1a1a1a" stroke-width="1.1"/>
<line x1="368.80" y1="363.40" x2="462.30" y2="363.40" stroke="#1a1a1a" stroke-width="1.1"/>
<line x1="365.80" y1="239.80" x2="368.80" y2="239.80" stroke="#1a1a1a" stroke-width="1.0"/>
<text x="362.60" y="242.97" font-size="8.8" text-anchor="end" textLength="8.6" lengthAdjust="spacingAndGlyphs">30</text>
<line x1="365.80" y1="281.20" x2="368.80" y2="281.20" stroke="#1a1a1a" stroke-width="1.0"/>
<text x="362.60" y="284.37" font-size="8.8" text-anchor="end" textLength="8.6" lengthAdjust="spacingAndGlyphs">20</text>
<line x1="365.80" y1="322.40" x2="368.80" y2="322.40" stroke="#1a1a1a" stroke-width="1.0"/>
<text x="362.60" y="325.57" font-size="8.8" text-anchor="end" textLength="8.6" lengthAdjust="spacingAndGlyphs">10</text>
<line x1="365.80" y1="363.40" x2="368.80" y2="363.40" stroke="#1a1a1a" stroke-width="1.0"/>
<text x="362.60" y="366.57" font-size="8.8" text-anchor="end" textLength="4.3" lengthAdjust="spacingAndGlyphs">0</text>
<text x="349.60" y="298.20" font-size="9.2" text-anchor="middle" textLength="107.6" lengthAdjust="spacingAndGlyphs" transform="rotate(-90 349.60 298.20)">% Human cells in BM at week 25</text>
<rect x="373.80" y="336.00" width="14.70" height="27.40" fill="#cdd5e6"/>
<rect x="373.80" y="274.60" width="14.70" height="88.80" fill="none" stroke="#111" stroke-width="0.9"/>
<line x1="381.15" y1="258.10" x2="381.15" y2="290.30" stroke="#111" stroke-width="0.9"/>
<line x1="378.55" y1="258.10" x2="383.75" y2="258.10" stroke="#111" stroke-width="0.9"/>
<line x1="378.55" y1="290.30" x2="383.75" y2="290.30" stroke="#111" stroke-width="0.9"/>
<line x1="381.15" y1="326.80" x2="381.15" y2="344.40" stroke="#111" stroke-width="0.9"/>
<line x1="378.55" y1="326.80" x2="383.75" y2="326.80" stroke="#111" stroke-width="0.9"/>
<line x1="378.55" y1="344.40" x2="383.75" y2="344.40" stroke="#111" stroke-width="0.9"/>
<rect x="396.90" y="356.00" width="14.20" height="7.40" fill="#f2c4cc"/>
<rect x="396.90" y="325.00" width="14.20" height="38.40" fill="none" stroke="#111" stroke-width="0.9"/>
<line x1="404.00" y1="317.00" x2="404.00" y2="331.20" stroke="#111" stroke-width="0.9"/>
<line x1="401.40" y1="317.00" x2="406.60" y2="317.00" stroke="#111" stroke-width="0.9"/>
<line x1="401.40" y1="331.20" x2="406.60" y2="331.20" stroke="#111" stroke-width="0.9"/>
<line x1="404.00" y1="352.40" x2="404.00" y2="357.90" stroke="#111" stroke-width="0.9"/>
<line x1="401.40" y1="352.40" x2="406.60" y2="352.40" stroke="#111" stroke-width="0.9"/>
<line x1="401.40" y1="357.90" x2="406.60" y2="357.90" stroke="#111" stroke-width="0.9"/>
<rect x="419.50" y="356.40" width="15.40" height="7.00" fill="#8c9fc4"/>
<rect x="419.50" y="325.70" width="15.40" height="37.70" fill="none" stroke="#111" stroke-width="0.9"/>
<line x1="427.20" y1="315.90" x2="427.20" y2="333.00" stroke="#111" stroke-width="0.9"/>
<line x1="424.60" y1="315.90" x2="429.80" y2="315.90" stroke="#111" stroke-width="0.9"/>
<line x1="424.60" y1="333.00" x2="429.80" y2="333.00" stroke="#111" stroke-width="0.9"/>
<line x1="427.20" y1="355.30" x2="427.20" y2="357.90" stroke="#111" stroke-width="0.9"/>
<line x1="424.60" y1="355.30" x2="429.80" y2="355.30" stroke="#111" stroke-width="0.9"/>
<line x1="424.60" y1="357.90" x2="429.80" y2="357.90" stroke="#111" stroke-width="0.9"/>
<rect x="442.50" y="362.60" width="14.60" height="0.80" fill="#f1b3c1"/>
<rect x="442.50" y="345.80" width="14.60" height="17.60" fill="none" stroke="#111" stroke-width="0.9"/>
<line x1="449.80" y1="337.80" x2="449.80" y2="351.70" stroke="#111" stroke-width="0.9"/>
<line x1="447.20" y1="337.80" x2="452.40" y2="337.80" stroke="#111" stroke-width="0.9"/>
<line x1="447.20" y1="351.70" x2="452.40" y2="351.70" stroke="#111" stroke-width="0.9"/>
<rect x="417.70" y="241.30" width="6.60" height="5.00" fill="#fff" stroke="#111" stroke-width="0.9"/>
<text x="428.00" y="246.60" font-size="7.4" textLength="42.5" lengthAdjust="spacingAndGlyphs">GFP-CD45+</text>
<rect x="417.70" y="253.30" width="6.60" height="4.80" fill="#111"/>
<text x="428.00" y="258.30" font-size="7.4" textLength="42.5" lengthAdjust="spacingAndGlyphs">GFP+CD45+</text>
<text x="8.40" y="418.70" font-size="11.8" font-weight="bold">D</text>
<text x="101.50" y="433.80" font-size="10.5" text-anchor="middle" textLength="78.5" lengthAdjust="spacingAndGlyphs">Stem/progenitors</text>
<text x="101.50" y="445.60" font-size="10.5" text-anchor="middle" textLength="56.0" lengthAdjust="spacingAndGlyphs">Week 25 BM</text>
<line x1="55.50" y1="451.50" x2="55.50" y2="462.50" stroke="#1a1a1a" stroke-width="1.4"/>
<line x1="53.80" y1="462.40" x2="57.30" y2="462.40" stroke="#1a1a1a" stroke-width="1.0"/>
<line x1="53.80" y1="465.30" x2="57.30" y2="465.30" stroke="#1a1a1a" stroke-width="1.0"/>
<line x1="55.50" y1="465.30" x2="55.50" y2="565.60" stroke="#1a1a1a" stroke-width="1.4"/>
<line x1="55.50" y1="565.10" x2="148.80" y2="565.10" stroke="#1a1a1a" stroke-width="1.4"/>
<line x1="101.00" y1="565.10" x2="101.00" y2="567.60" stroke="#1a1a1a" stroke-width="0.8"/>
<line x1="52.50" y1="454.00" x2="55.50" y2="454.00" stroke="#1a1a1a" stroke-width="1.0"/>
<text x="49.30" y="457.17" font-size="8.8" text-anchor="end" textLength="21.5" lengthAdjust="spacingAndGlyphs">10000</text>
<line x1="52.50" y1="459.70" x2="55.50" y2="459.70" stroke="#1a1a1a" stroke-width="1.0"/>
<text x="49.30" y="462.87" font-size="8.8" text-anchor="end" textLength="17.2" lengthAdjust="spacingAndGlyphs">6000</text>
<line x1="52.50" y1="467.60" x2="55.50" y2="467.60" stroke="#1a1a1a" stroke-width="1.0"/>
<text x="49.30" y="470.77" font-size="8.8" text-anchor="end" textLength="17.2" lengthAdjust="spacingAndGlyphs">3000</text>
<line x1="52.50" y1="500.10" x2="55.50" y2="500.10" stroke="#1a1a1a" stroke-width="1.0"/>
<text x="49.30" y="503.27" font-size="8.8" text-anchor="end" textLength="17.2" lengthAdjust="spacingAndGlyphs">2000</text>
<line x1="52.50" y1="532.60" x2="55.50" y2="532.60" stroke="#1a1a1a" stroke-width="1.0"/>
<text x="49.30" y="535.77" font-size="8.8" text-anchor="end" textLength="17.2" lengthAdjust="spacingAndGlyphs">1000</text>
<line x1="52.50" y1="565.10" x2="55.50" y2="565.10" stroke="#1a1a1a" stroke-width="1.0"/>
<text x="49.30" y="568.27" font-size="8.8" text-anchor="end" textLength="4.3" lengthAdjust="spacingAndGlyphs">0</text>
<text x="21.30" y="507.50" font-size="9.2" text-anchor="middle" textLength="109.0" lengthAdjust="spacingAndGlyphs" transform="rotate(-90 21.30 507.50)">No. of human GFP<tspan font-size="6.5" dy="-3.3">+</tspan><tspan dy="3.3">CD34</tspan><tspan font-size="6.5" dy="-3.3">+</tspan><tspan dy="3.3"> cells</tspan></text>
<rect x="62.30" y="472.50" width="13.40" height="92.60" fill="#cdd5e6"/>
<rect x="83.50" y="542.50" width="14.10" height="22.60" fill="#f2c4cc"/>
<rect x="105.00" y="536.50" width="14.50" height="28.60" fill="#8c9fc4"/>
<rect x="126.20" y="562.70" width="14.50" height="2.40" fill="#f1b3c1"/>
<line x1="69.00" y1="468.50" x2="69.00" y2="527.40" stroke="#5267ad" stroke-width="1.1"/>
<line x1="66.20" y1="468.50" x2="71.80" y2="468.50" stroke="#5267ad" stroke-width="1.1"/>
<line x1="66.20" y1="527.40" x2="71.80" y2="527.40" stroke="#5267ad" stroke-width="1.1"/>
<line x1="90.50" y1="527.40" x2="90.50" y2="557.30" stroke="#d0605a" stroke-width="1.1"/>
<line x1="87.70" y1="527.40" x2="93.30" y2="527.40" stroke="#d0605a" stroke-width="1.1"/>
<line x1="87.70" y1="557.30" x2="93.30" y2="557.30" stroke="#d0605a" stroke-width="1.1"/>
<line x1="112.30" y1="522.00" x2="112.30" y2="550.60" stroke="#1f3f86" stroke-width="1.1"/>
<line x1="109.50" y1="522.00" x2="115.10" y2="522.00" stroke="#1f3f86" stroke-width="1.1"/>
<line x1="109.50" y1="550.60" x2="115.10" y2="550.60" stroke="#1f3f86" stroke-width="1.1"/>
<line x1="133.40" y1="560.50" x2="133.40" y2="564.00" stroke="#bb0f36" stroke-width="1.1"/>
<line x1="130.60" y1="560.50" x2="136.20" y2="560.50" stroke="#bb0f36" stroke-width="1.1"/>
<line x1="130.60" y1="564.00" x2="136.20" y2="564.00" stroke="#bb0f36" stroke-width="1.1"/>
<path d="M66.70,458.04L71.30,458.04L69.00,454.45Z" fill="#5267ad"/>
<ellipse cx="69.00" cy="464.40" rx="2.3" ry="1.8" fill="#5267ad"/>
<ellipse cx="68.80" cy="544.10" rx="2.3" ry="1.8" fill="#5267ad"/>
<ellipse cx="66.20" cy="562.30" rx="2.3" ry="1.8" fill="#5267ad"/>
<ellipse cx="71.40" cy="559.20" rx="2.3" ry="1.8" fill="#5267ad"/>
<path d="M87.90,496.04L92.50,496.04L90.20,492.45Z" fill="#d0605a"/>
<path d="M88.20,528.44L92.80,528.44L90.50,524.85Z" fill="#d0605a"/>
<ellipse cx="85.80" cy="562.60" rx="2.3" ry="1.8" fill="#d0605a"/>
<ellipse cx="90.50" cy="564.60" rx="2.3" ry="1.8" fill="#d0605a"/>
<ellipse cx="95.10" cy="564.40" rx="2.3" ry="1.8" fill="#d0605a"/>
<path d="M109.70,484.94L114.30,484.94L112.00,481.35Z" fill="#1f3f86"/>
<path d="M109.40,549.74L114.00,549.74L111.70,546.15Z" fill="#1f3f86"/>
<ellipse cx="111.70" cy="555.90" rx="2.3" ry="1.8" fill="#1f3f86"/>
<ellipse cx="109.50" cy="564.60" rx="2.3" ry="1.8" fill="#1f3f86"/>
<ellipse cx="114.70" cy="563.30" rx="2.3" ry="1.8" fill="#1f3f86"/>
<path d="M130.70,558.94L135.30,558.94L133.00,555.35Z" fill="#bb0f36"/>
<ellipse cx="129.00" cy="563.50" rx="2.3" ry="1.8" fill="#bb0f36"/>
<ellipse cx="133.50" cy="564.00" rx="2.3" ry="1.8" fill="#bb0f36"/>
<ellipse cx="137.50" cy="563.50" rx="2.3" ry="1.8" fill="#bb0f36"/>
<text x="259.00" y="433.80" font-size="10.5" text-anchor="middle" textLength="44.3" lengthAdjust="spacingAndGlyphs">Stem cells</text>
<text x="258.60" y="445.60" font-size="10.5" text-anchor="middle" textLength="55.3" lengthAdjust="spacingAndGlyphs">Week 25 BM</text>
<line x1="211.90" y1="451.00" x2="211.90" y2="566.00" stroke="#1a1a1a" stroke-width="1.4"/>
<line x1="211.90" y1="565.50" x2="305.40" y2="565.50" stroke="#1a1a1a" stroke-width="1.4"/>
<line x1="257.50" y1="565.50" x2="257.50" y2="568.00" stroke="#1a1a1a" stroke-width="0.8"/>
<line x1="208.90" y1="453.70" x2="211.90" y2="453.70" stroke="#1a1a1a" stroke-width="1.0"/>
<text x="205.70" y="456.87" font-size="8.8" text-anchor="end" textLength="17.2" lengthAdjust="spacingAndGlyphs">1600</text>
<line x1="208.90" y1="481.60" x2="211.90" y2="481.60" stroke="#1a1a1a" stroke-width="1.0"/>
<text x="205.70" y="484.77" font-size="8.8" text-anchor="end" textLength="17.2" lengthAdjust="spacingAndGlyphs">1200</text>
<line x1="208.90" y1="509.60" x2="211.90" y2="509.60" stroke="#1a1a1a" stroke-width="1.0"/>
<text x="205.70" y="512.77" font-size="8.8" text-anchor="end" textLength="12.9" lengthAdjust="spacingAndGlyphs">800</text>
<line x1="208.90" y1="537.50" x2="211.90" y2="537.50" stroke="#1a1a1a" stroke-width="1.0"/>
<text x="205.70" y="540.67" font-size="8.8" text-anchor="end" textLength="12.9" lengthAdjust="spacingAndGlyphs">400</text>
<line x1="208.90" y1="565.50" x2="211.90" y2="565.50" stroke="#1a1a1a" stroke-width="1.0"/>
<text x="205.70" y="568.67" font-size="8.8" text-anchor="end" textLength="4.3" lengthAdjust="spacingAndGlyphs">0</text>
<text x="169.80" y="508.00" font-size="8.8" text-anchor="middle" textLength="103.0" lengthAdjust="spacingAndGlyphs" transform="rotate(-90 169.80 508.00)">No. of human CD34<tspan font-size="6.5" dy="-3.3">+</tspan><tspan dy="3.3">38</tspan><tspan font-size="6.5" dy="-3.3">-</tspan><tspan dy="3.3"> cells</tspan></text>
<text x="182.30" y="508.80" font-size="8.8" text-anchor="middle" textLength="106.0" lengthAdjust="spacingAndGlyphs" transform="rotate(-90 182.30 508.80)">(in GFP<tspan font-size="6.5" dy="-3.3">+</tspan><tspan dy="3.3">CD34</tspan><tspan font-size="6.5" dy="-3.3">+</tspan><tspan dy="3.3"> compartment)</tspan></text>
<rect x="218.50" y="519.40" width="14.30" height="46.10" fill="#cdd5e6"/>
<rect x="240.30" y="553.30" width="14.20" height="12.20" fill="#f2c4cc"/>
<rect x="262.10" y="549.90" width="13.90" height="15.60" fill="#8c9fc4"/>
<rect x="283.90" y="563.80" width="13.90" height="1.70" fill="#f1b3c1"/>
<line x1="225.50" y1="499.70" x2="225.50" y2="539.10" stroke="#5267ad" stroke-width="1.1"/>
<line x1="222.70" y1="499.70" x2="228.30" y2="499.70" stroke="#5267ad" stroke-width="1.1"/>
<line x1="222.70" y1="539.10" x2="228.30" y2="539.10" stroke="#5267ad" stroke-width="1.1"/>
<line x1="247.20" y1="546.00" x2="247.20" y2="561.60" stroke="#d0605a" stroke-width="1.1"/>
<line x1="244.40" y1="546.00" x2="250.00" y2="546.00" stroke="#d0605a" stroke-width="1.1"/>
<line x1="244.40" y1="561.60" x2="250.00" y2="561.60" stroke="#d0605a" stroke-width="1.1"/>
<line x1="269.00" y1="543.00" x2="269.00" y2="556.50" stroke="#1f3f86" stroke-width="1.1"/>
<line x1="266.20" y1="543.00" x2="271.80" y2="543.00" stroke="#1f3f86" stroke-width="1.1"/>
<line x1="266.20" y1="556.50" x2="271.80" y2="556.50" stroke="#1f3f86" stroke-width="1.1"/>
<path d="M223.50,457.74L228.10,457.74L225.80,454.15Z" fill="#5267ad"/>
<path d="M223.50,495.14L228.10,495.14L225.80,491.55Z" fill="#5267ad"/>
<ellipse cx="225.80" cy="530.80" rx="2.3" ry="1.8" fill="#5267ad"/>
<ellipse cx="223.30" cy="559.90" rx="2.3" ry="1.8" fill="#5267ad"/>
<ellipse cx="228.50" cy="556.80" rx="2.3" ry="1.8" fill="#5267ad"/>
<path d="M244.90,525.54L249.50,525.54L247.20,521.95Z" fill="#d0605a"/>
<path d="M245.20,552.14L249.80,552.14L247.50,548.55Z" fill="#d0605a"/>
<ellipse cx="242.80" cy="561.40" rx="2.3" ry="1.8" fill="#d0605a"/>
<ellipse cx="247.50" cy="564.50" rx="2.3" ry="1.8" fill="#d0605a"/>
<ellipse cx="251.70" cy="564.50" rx="2.3" ry="1.8" fill="#d0605a"/>
<path d="M266.70,526.94L271.30,526.94L269.00,523.35Z" fill="#1f3f86"/>
<path d="M266.70,535.94L271.30,535.94L269.00,532.35Z" fill="#1f3f86"/>
<ellipse cx="269.00" cy="551.60" rx="2.3" ry="1.8" fill="#1f3f86"/>
<ellipse cx="271.70" cy="561.90" rx="2.3" ry="1.8" fill="#1f3f86"/>
<ellipse cx="266.50" cy="564.60" rx="2.3" ry="1.8" fill="#1f3f86"/>
<ellipse cx="268.70" cy="558.80" rx="2.3" ry="1.8" fill="#1f3f86"/>
<ellipse cx="287.50" cy="564.30" rx="2.3" ry="1.8" fill="#bb0f36"/>
<ellipse cx="291.00" cy="564.30" rx="2.3" ry="1.8" fill="#bb0f36"/>
<ellipse cx="294.50" cy="564.30" rx="2.3" ry="1.8" fill="#bb0f36"/>
<text x="278.20" y="498.40" font-size="7.4" text-anchor="middle" textLength="31.5" lengthAdjust="spacingAndGlyphs">P = 0.047</text>
<polyline points="267.30,508.00 267.30,502.20 289.10,502.20 289.10,508.00" fill="none" stroke="#1a1a1a" stroke-width="0.9"/>
<text x="420.10" y="433.80" font-size="10.5" text-anchor="middle" textLength="57.8" lengthAdjust="spacingAndGlyphs">Myeloid cells</text>
<text x="420.00" y="445.60" font-size="10.5" text-anchor="middle" textLength="56.0" lengthAdjust="spacingAndGlyphs">Week 25 BM</text>
<line x1="373.90" y1="451.50" x2="373.90" y2="462.80" stroke="#1a1a1a" stroke-width="1.4"/>
<line x1="372.20" y1="462.80" x2="375.70" y2="462.80" stroke="#1a1a1a" stroke-width="1.0"/>
<line x1="372.20" y1="465.80" x2="375.70" y2="465.80" stroke="#1a1a1a" stroke-width="1.0"/>
<line x1="373.90" y1="465.80" x2="373.90" y2="566.00" stroke="#1a1a1a" stroke-width="1.4"/>
<line x1="373.90" y1="565.50" x2="466.30" y2="565.50" stroke="#1a1a1a" stroke-width="1.4"/>
<line x1="419.00" y1="565.50" x2="419.00" y2="568.00" stroke="#1a1a1a" stroke-width="0.8"/>
<line x1="370.90" y1="453.00" x2="373.90" y2="453.00" stroke="#1a1a1a" stroke-width="1.0"/>
<text x="367.70" y="456.17" font-size="8.8" text-anchor="end" textLength="21.5" lengthAdjust="spacingAndGlyphs">30000</text>
<line x1="370.90" y1="459.90" x2="373.90" y2="459.90" stroke="#1a1a1a" stroke-width="1.0"/>
<text x="367.70" y="463.07" font-size="8.8" text-anchor="end" textLength="21.5" lengthAdjust="spacingAndGlyphs">20000</text>
<line x1="370.90" y1="476.80" x2="373.90" y2="476.80" stroke="#1a1a1a" stroke-width="1.0"/>
<text x="367.70" y="479.97" font-size="8.8" text-anchor="end" textLength="21.5" lengthAdjust="spacingAndGlyphs">10000</text>
<line x1="370.90" y1="499.00" x2="373.90" y2="499.00" stroke="#1a1a1a" stroke-width="1.0"/>
<text x="367.70" y="502.17" font-size="8.8" text-anchor="end" textLength="17.2" lengthAdjust="spacingAndGlyphs">7500</text>
<line x1="370.90" y1="521.20" x2="373.90" y2="521.20" stroke="#1a1a1a" stroke-width="1.0"/>
<text x="367.70" y="524.37" font-size="8.8" text-anchor="end" textLength="17.2" lengthAdjust="spacingAndGlyphs">5000</text>
<line x1="370.90" y1="543.30" x2="373.90" y2="543.30" stroke="#1a1a1a" stroke-width="1.0"/>
<text x="367.70" y="546.47" font-size="8.8" text-anchor="end" textLength="17.2" lengthAdjust="spacingAndGlyphs">2500</text>
<line x1="370.90" y1="565.50" x2="373.90" y2="565.50" stroke="#1a1a1a" stroke-width="1.0"/>
<text x="367.70" y="568.67" font-size="8.8" text-anchor="end" textLength="4.3" lengthAdjust="spacingAndGlyphs">0</text>
<text x="327.20" y="508.00" font-size="8.8" text-anchor="middle" textLength="103.0" lengthAdjust="spacingAndGlyphs" transform="rotate(-90 327.20 508.00)">No. of human CD33/15<tspan font-size="6.5" dy="-3.3">+</tspan><tspan dy="3.3"> cells</tspan></text>
<text x="339.60" y="508.40" font-size="8.8" text-anchor="middle" textLength="106.0" lengthAdjust="spacingAndGlyphs" transform="rotate(-90 339.60 508.40)">(in GFP<tspan font-size="6.5" dy="-3.3">+</tspan><tspan dy="3.3">CD45</tspan><tspan font-size="6.5" dy="-3.3">+</tspan><tspan dy="3.3"> compartment)</tspan></text>
<rect x="379.80" y="479.60" width="14.90" height="85.90" fill="#cdd5e6"/>
<rect x="401.60" y="540.20" width="13.90" height="25.30" fill="#f2c4cc"/>
<rect x="422.40" y="545.40" width="13.80" height="20.10" fill="#8c9fc4"/>
<rect x="444.50" y="562.50" width="13.90" height="3.00" fill="#f1b3c1"/>
<line x1="386.90" y1="462.30" x2="386.90" y2="529.80" stroke="#5267ad" stroke-width="1.1"/>
<line x1="384.10" y1="462.30" x2="389.70" y2="462.30" stroke="#5267ad" stroke-width="1.1"/>
<line x1="384.10" y1="529.80" x2="389.70" y2="529.80" stroke="#5267ad" stroke-width="1.1"/>
<line x1="408.30" y1="525.30" x2="408.30" y2="554.00" stroke="#d0605a" stroke-width="1.1"/>
<line x1="405.50" y1="525.30" x2="411.10" y2="525.30" stroke="#d0605a" stroke-width="1.1"/>
<line x1="405.50" y1="554.00" x2="411.10" y2="554.00" stroke="#d0605a" stroke-width="1.1"/>
<line x1="429.30" y1="536.00" x2="429.30" y2="554.40" stroke="#1f3f86" stroke-width="1.1"/>
<line x1="426.50" y1="536.00" x2="432.10" y2="536.00" stroke="#1f3f86" stroke-width="1.1"/>
<line x1="426.50" y1="554.40" x2="432.10" y2="554.40" stroke="#1f3f86" stroke-width="1.1"/>
<line x1="451.20" y1="561.00" x2="451.20" y2="564.00" stroke="#bb0f36" stroke-width="1.1"/>
<line x1="448.70" y1="561.00" x2="453.70" y2="561.00" stroke="#bb0f36" stroke-width="1.1"/>
<line x1="448.70" y1="564.00" x2="453.70" y2="564.00" stroke="#bb0f36" stroke-width="1.1"/>
<path d="M384.40,456.34L389.00,456.34L386.70,452.75Z" fill="#5267ad"/>
<ellipse cx="386.90" cy="461.80" rx="2.3" ry="1.8" fill="#5267ad"/>
<ellipse cx="386.70" cy="551.60" rx="2.3" ry="1.8" fill="#5267ad"/>
<ellipse cx="386.70" cy="557.50" rx="2.3" ry="1.8" fill="#5267ad"/>
<ellipse cx="386.70" cy="564.40" rx="2.3" ry="1.8" fill="#5267ad"/>
<path d="M405.90,497.84L410.50,497.84L408.20,494.25Z" fill="#d0605a"/>
<path d="M405.90,514.14L410.50,514.14L408.20,510.55Z" fill="#d0605a"/>
<ellipse cx="403.50" cy="564.50" rx="2.3" ry="1.8" fill="#d0605a"/>
<ellipse cx="408.00" cy="564.50" rx="2.3" ry="1.8" fill="#d0605a"/>
<ellipse cx="412.50" cy="564.50" rx="2.3" ry="1.8" fill="#d0605a"/>
<path d="M427.00,494.44L431.60,494.44L429.30,490.85Z" fill="#1f3f86"/>
<ellipse cx="424.20" cy="549.60" rx="2.3" ry="1.8" fill="#1f3f86"/>
<path d="M425.70,552.64L430.30,552.64L428.00,549.05Z" fill="#1f3f86"/>
<path d="M432.30,552.04L436.90,552.04L434.60,548.45Z" fill="#1f3f86"/>
<ellipse cx="431.10" cy="554.40" rx="2.3" ry="1.8" fill="#1f3f86"/>
<ellipse cx="426.80" cy="560.00" rx="2.3" ry="1.8" fill="#1f3f86"/>
<ellipse cx="432.00" cy="560.00" rx="2.3" ry="1.8" fill="#1f3f86"/>
<ellipse cx="447.50" cy="563.00" rx="2.3" ry="1.8" fill="#bb0f36"/>
<ellipse cx="451.00" cy="561.50" rx="2.3" ry="1.8" fill="#bb0f36"/>
<ellipse cx="454.50" cy="563.50" rx="2.3" ry="1.8" fill="#bb0f36"/>
<ellipse cx="451.00" cy="564.30" rx="2.3" ry="1.8" fill="#bb0f36"/>
<text x="446.60" y="464.80" font-size="7.4" fill="#6478b5" color="#6478b5" textLength="17.0" lengthAdjust="spacingAndGlyphs">pRRL</text>
<text x="446.60" y="473.50" font-size="7.4" fill="#dd7d74" color="#dd7d74" textLength="29.0" lengthAdjust="spacingAndGlyphs">miR-185</text>
<text x="446.60" y="483.20" font-size="7.4" fill="#264a8d" color="#264a8d" textLength="34.0" lengthAdjust="spacingAndGlyphs">pRRL+DA</text>
<text x="446.60" y="491.80" font-size="7.4" fill="#c2183f" color="#c2183f" textLength="43.8" lengthAdjust="spacingAndGlyphs">miR-185+DA</text>
<text x="9.10" y="596.00" font-size="11.8" font-weight="bold">E</text>
<text x="68.10" y="613.30" font-size="9.8" text-anchor="middle" fill="#33539b" color="#33539b" textLength="23.0" lengthAdjust="spacingAndGlyphs">pRRL</text>
<text x="151.60" y="613.30" font-size="9.8" text-anchor="middle" fill="#bf1641" color="#bf1641" textLength="36.5" lengthAdjust="spacingAndGlyphs">miR-185</text>
<text x="237.70" y="613.30" font-size="9.8" text-anchor="middle" fill="#33539b" color="#33539b" textLength="43.8" lengthAdjust="spacingAndGlyphs">pRRL+DA</text>
<text x="324.00" y="613.30" font-size="9.8" text-anchor="middle" fill="#bf1641" color="#bf1641" textLength="57.7" lengthAdjust="spacingAndGlyphs">miR-185+DA</text>
<rect x="35.90" y="617.30" width="63.70" height="63.70" fill="#fff" stroke="#cfcfcf" stroke-width="0.6"/>
<g clip-path="url(#c8)"><g filter="url(#spk)">
<rect x="32.90" y="614.30" width="69.70" height="69.70" fill-opacity="0.29"/>
<ellipse cx="60" cy="650" rx="22" ry="18" fill-opacity="0.31"/>
<ellipse cx="66" cy="627" rx="18" ry="7" fill-opacity="0.75"/>
<ellipse cx="90" cy="627" rx="9" ry="6" fill-opacity="0.50"/>
<ellipse cx="60" cy="674" rx="18" ry="6" transform="rotate(-10 60 674)" fill-opacity="0.88"/>
<ellipse cx="87" cy="670" rx="12" ry="2.5" fill-opacity="0.69"/>
</g><g filter="url(#bl)">
<ellipse cx="65" cy="627.5" rx="13" ry="5.2" fill="#2d4db3"/>
<path d="M42,674 L70,664 Q74.5,663 74,668 L73,673.5 Q58,677 43,677.5 Z" fill="#2d4db3"/>
<ellipse cx="87" cy="670" rx="12" ry="1.3" fill="#2d4db3"/>
<ellipse cx="61" cy="626.8" rx="10" ry="3.4" fill="#3cb3e6"/>
<ellipse cx="59" cy="631.3" rx="6" ry="1.8" fill="#3cb3e6"/>
<ellipse cx="58" cy="670.5" rx="14" ry="3" transform="rotate(-11 58 670.5)" fill="#3cb3e6"/>
<ellipse cx="61" cy="626.3" rx="7" ry="2.2" fill="#6ac94f"/>
<ellipse cx="58" cy="670.6" rx="12" ry="2" transform="rotate(-10 58 670.6)" fill="#6ac94f"/>
<ellipse cx="60" cy="626" rx="2.5" ry="1" fill="#efe13a"/>
<ellipse cx="54.5" cy="671" rx="5.5" ry="1.6" fill="#efe13a"/>
<ellipse cx="53.8" cy="671" rx="3" ry="1" fill="#e5482b"/>
</g></g>
<rect x="80.90" y="617.60" width="18.70" height="17.50" fill="none" stroke="#555" stroke-width="0.7"/>
<text x="98.40" y="640.80" font-size="5.2" text-anchor="end" fill="#1a1a1a" color="#1a1a1a" font-family="Liberation Serif">0.93%</text>
<line x1="34.40" y1="623.00" x2="35.90" y2="623.00" stroke="#333" stroke-width="0.6"/>
<text x="32.70" y="625.00" font-size="5.6" text-anchor="end">10<tspan font-size="3.47" dy="-2.13">5</tspan></text>
<line x1="34.40" y1="636.00" x2="35.90" y2="636.00" stroke="#333" stroke-width="0.6"/>
<text x="32.70" y="638.00" font-size="5.6" text-anchor="end">10<tspan font-size="3.47" dy="-2.13">4</tspan></text>
<line x1="34.40" y1="649.40" x2="35.90" y2="649.40" stroke="#333" stroke-width="0.6"/>
<text x="32.70" y="651.40" font-size="5.6" text-anchor="end">10<tspan font-size="3.47" dy="-2.13">3</tspan></text>
<line x1="34.40" y1="665.70" x2="35.90" y2="665.70" stroke="#333" stroke-width="0.6"/>
<text x="30.90" y="667.70" font-size="5.6" text-anchor="end">0</text>
<line x1="41.10" y1="681.00" x2="41.10" y2="682.50" stroke="#333" stroke-width="0.6"/>
<text x="41.10" y="689.00" font-size="5.6" text-anchor="middle">10<tspan font-size="3.47" dy="-2.13">3</tspan></text>
<line x1="52.50" y1="681.00" x2="52.50" y2="682.50" stroke="#333" stroke-width="0.6"/>
<text x="52.50" y="689.00" font-size="5.6" text-anchor="middle">0</text>
<line x1="59.20" y1="681.00" x2="59.20" y2="682.50" stroke="#333" stroke-width="0.6"/>
<text x="60.20" y="689.00" font-size="5.6" text-anchor="middle">10<tspan font-size="3.47" dy="-2.13">3</tspan></text>
<line x1="76.20" y1="681.00" x2="76.20" y2="682.50" stroke="#333" stroke-width="0.6"/>
<text x="77.20" y="689.00" font-size="5.6" text-anchor="middle">10<tspan font-size="3.47" dy="-2.13">4</tspan></text>
<line x1="92.30" y1="681.00" x2="92.30" y2="682.50" stroke="#333" stroke-width="0.6"/>
<text x="93.30" y="689.00" font-size="5.6" text-anchor="middle">10<tspan font-size="3.47" dy="-2.13">5</tspan></text>
<rect x="120.50" y="617.30" width="62.50" height="63.70" fill="#fff" stroke="#cfcfcf" stroke-width="0.6"/>
<g clip-path="url(#c9)"><g filter="url(#spk)">
<rect x="117.50" y="614.30" width="68.50" height="69.70" fill-opacity="0.24"/>
<ellipse cx="145" cy="650" rx="22" ry="18" fill-opacity="0.25"/>
<ellipse cx="150" cy="628" rx="14" ry="7" fill-opacity="0.69"/>
<ellipse cx="174" cy="628" rx="9" ry="6" fill-opacity="0.44"/>
<ellipse cx="142" cy="674" rx="20" ry="6" transform="rotate(-12 142 674)" fill-opacity="0.88"/>
<ellipse cx="172" cy="670" rx="12" ry="2.5" fill-opacity="0.69"/>
</g><g filter="url(#bl)">
<ellipse cx="149" cy="628" rx="11" ry="5" fill="#2d4db3"/>
<path d="M123,676.5 L158,664 Q162,663 161.5,667.5 L160.5,673 Q140,678 123,679.5 Z" fill="#2d4db3"/>
<ellipse cx="173" cy="670" rx="11" ry="1.3" fill="#2d4db3"/>
<ellipse cx="147" cy="630" rx="4" ry="2" fill="#3cb3e6"/>
<ellipse cx="143" cy="670.5" rx="16" ry="2.8" transform="rotate(-14 143 670.5)" fill="#3cb3e6"/>
<ellipse cx="143" cy="670.5" rx="11" ry="1.7" transform="rotate(-14 143 670.5)" fill="#6ac94f"/>
<ellipse cx="138.5" cy="671" rx="4" ry="1.3" fill="#efe13a"/>
<ellipse cx="138" cy="671" rx="2" ry="0.9" fill="#e5482b"/>
</g></g>
<rect x="165.00" y="617.60" width="18.00" height="17.50" fill="none" stroke="#555" stroke-width="0.7"/>
<text x="181.80" y="640.80" font-size="5.2" text-anchor="end" fill="#1a1a1a" color="#1a1a1a" font-family="Liberation Serif">0.44%</text>
<line x1="119.00" y1="623.00" x2="120.50" y2="623.00" stroke="#333" stroke-width="0.6"/>
<text x="117.30" y="625.00" font-size="5.6" text-anchor="end">10<tspan font-size="3.47" dy="-2.13">5</tspan></text>
<line x1="119.00" y1="636.00" x2="120.50" y2="636.00" stroke="#333" stroke-width="0.6"/>
<text x="117.30" y="638.00" font-size="5.6" text-anchor="end">10<tspan font-size="3.47" dy="-2.13">4</tspan></text>
<line x1="119.00" y1="649.40" x2="120.50" y2="649.40" stroke="#333" stroke-width="0.6"/>
<text x="117.30" y="651.40" font-size="5.6" text-anchor="end">10<tspan font-size="3.47" dy="-2.13">3</tspan></text>
<line x1="119.00" y1="665.70" x2="120.50" y2="665.70" stroke="#333" stroke-width="0.6"/>
<text x="115.50" y="667.70" font-size="5.6" text-anchor="end">0</text>
<line x1="125.70" y1="681.00" x2="125.70" y2="682.50" stroke="#333" stroke-width="0.6"/>
<text x="125.70" y="689.00" font-size="5.6" text-anchor="middle">10<tspan font-size="3.47" dy="-2.13">3</tspan></text>
<line x1="137.10" y1="681.00" x2="137.10" y2="682.50" stroke="#333" stroke-width="0.6"/>
<text x="137.10" y="689.00" font-size="5.6" text-anchor="middle">0</text>
<line x1="143.80" y1="681.00" x2="143.80" y2="682.50" stroke="#333" stroke-width="0.6"/>
<text x="144.80" y="689.00" font-size="5.6" text-anchor="middle">10<tspan font-size="3.47" dy="-2.13">3</tspan></text>
<line x1="160.80" y1="681.00" x2="160.80" y2="682.50" stroke="#333" stroke-width="0.6"/>
<text x="161.80" y="689.00" font-size="5.6" text-anchor="middle">10<tspan font-size="3.47" dy="-2.13">4</tspan></text>
<line x1="176.90" y1="681.00" x2="176.90" y2="682.50" stroke="#333" stroke-width="0.6"/>
<text x="177.90" y="689.00" font-size="5.6" text-anchor="middle">10<tspan font-size="3.47" dy="-2.13">5</tspan></text>
<rect x="205.50" y="617.30" width="62.50" height="63.70" fill="#fff" stroke="#cfcfcf" stroke-width="0.6"/>
<g clip-path="url(#c10)"><g filter="url(#spk)">
<rect x="202.50" y="614.30" width="68.50" height="69.70" fill-opacity="0.11"/>
<ellipse cx="230" cy="650" rx="22" ry="18" fill-opacity="0.12"/>
<ellipse cx="246" cy="628" rx="22" ry="5" fill-opacity="0.94"/>
<ellipse cx="226" cy="674" rx="20" ry="6" transform="rotate(-12 226 674)" fill-opacity="0.88"/>
<ellipse cx="256" cy="673" rx="12" ry="2.5" fill-opacity="0.69"/>
</g><g filter="url(#bl)">
<path d="M205,676 L242,662 Q247,661 246,667 L245,675 Q225,679 205,680 Z" fill="#2d4db3"/>
<ellipse cx="256" cy="673" rx="10" ry="1.3" fill="#2d4db3"/>
<ellipse cx="225" cy="672.5" rx="14" ry="2.8" transform="rotate(-12 225 672.5)" fill="#3cb3e6"/>
<ellipse cx="224.5" cy="673" rx="7" ry="1.8" transform="rotate(-10 224.5 673)" fill="#6ac94f"/>
<ellipse cx="224" cy="673" rx="3.5" ry="1.3" fill="#efe13a"/>
<ellipse cx="223.6" cy="673" rx="1.8" ry="0.9" fill="#e5482b"/>
</g></g>
<rect x="248.00" y="617.60" width="20.00" height="20.60" fill="none" stroke="#555" stroke-width="0.7"/>
<text x="266.80" y="643.90" font-size="5.2" text-anchor="end" fill="#1a1a1a" color="#1a1a1a" font-family="Liberation Serif">0.39%</text>
<line x1="204.00" y1="623.00" x2="205.50" y2="623.00" stroke="#333" stroke-width="0.6"/>
<text x="202.30" y="625.00" font-size="5.6" text-anchor="end">10<tspan font-size="3.47" dy="-2.13">5</tspan></text>
<line x1="204.00" y1="636.00" x2="205.50" y2="636.00" stroke="#333" stroke-width="0.6"/>
<text x="202.30" y="638.00" font-size="5.6" text-anchor="end">10<tspan font-size="3.47" dy="-2.13">4</tspan></text>
<line x1="204.00" y1="649.40" x2="205.50" y2="649.40" stroke="#333" stroke-width="0.6"/>
<text x="202.30" y="651.40" font-size="5.6" text-anchor="end">10<tspan font-size="3.47" dy="-2.13">3</tspan></text>
<line x1="204.00" y1="663.00" x2="205.50" y2="663.00" stroke="#333" stroke-width="0.6"/>
<text x="202.30" y="665.00" font-size="5.6" text-anchor="end">10<tspan font-size="3.47" dy="-2.13">2</tspan></text>
<line x1="204.00" y1="668.00" x2="205.50" y2="668.00" stroke="#333" stroke-width="0.6"/>
<text x="200.50" y="670.00" font-size="5.6" text-anchor="end">0</text>
<line x1="204.00" y1="673.00" x2="205.50" y2="673.00" stroke="#333" stroke-width="0.6"/>
<text x="202.30" y="675.00" font-size="5.6" text-anchor="end">-10<tspan font-size="3.47" dy="-2.13">2</tspan></text>
<line x1="210.70" y1="681.00" x2="210.70" y2="682.50" stroke="#333" stroke-width="0.6"/>
<text x="210.70" y="689.00" font-size="5.6" text-anchor="middle">10<tspan font-size="3.47" dy="-2.13">3</tspan></text>
<line x1="222.10" y1="681.00" x2="222.10" y2="682.50" stroke="#333" stroke-width="0.6"/>
<text x="222.10" y="689.00" font-size="5.6" text-anchor="middle">0</text>
<line x1="228.80" y1="681.00" x2="228.80" y2="682.50" stroke="#333" stroke-width="0.6"/>
<text x="229.80" y="689.00" font-size="5.6" text-anchor="middle">10<tspan font-size="3.47" dy="-2.13">3</tspan></text>
<line x1="245.80" y1="681.00" x2="245.80" y2="682.50" stroke="#333" stroke-width="0.6"/>
<text x="246.80" y="689.00" font-size="5.6" text-anchor="middle">10<tspan font-size="3.47" dy="-2.13">4</tspan></text>
<line x1="261.90" y1="681.00" x2="261.90" y2="682.50" stroke="#333" stroke-width="0.6"/>
<text x="262.90" y="689.00" font-size="5.6" text-anchor="middle">10<tspan font-size="3.47" dy="-2.13">5</tspan></text>
<rect x="293.50" y="617.30" width="61.00" height="63.70" fill="#fff" stroke="#cfcfcf" stroke-width="0.6"/>
<g clip-path="url(#c11)"><g filter="url(#spk)">
<rect x="290.50" y="614.30" width="67.00" height="69.70" fill-opacity="0.10"/>
<ellipse cx="318" cy="650" rx="22" ry="18" fill-opacity="0.10"/>
<ellipse cx="330" cy="629" rx="20" ry="4" transform="rotate(-5 330 629)" fill-opacity="0.56"/>
<ellipse cx="313" cy="674" rx="20" ry="6" transform="rotate(-12 313 674)" fill-opacity="0.88"/>
<ellipse cx="344" cy="673" rx="12" ry="2.5" fill-opacity="0.62"/>
</g><g filter="url(#bl)">
<path d="M293.5,676 L329,662 Q334,661 333,667 L332,675 Q312,679 293.5,680 Z" fill="#2d4db3"/>
<ellipse cx="344" cy="673" rx="10" ry="1.3" fill="#2d4db3"/>
<ellipse cx="312" cy="672.5" rx="14" ry="2.8" transform="rotate(-12 312 672.5)" fill="#3cb3e6"/>
<ellipse cx="311.5" cy="673" rx="7" ry="1.8" transform="rotate(-10 311.5 673)" fill="#6ac94f"/>
<ellipse cx="311" cy="673" rx="3.5" ry="1.3" fill="#efe13a"/>
<ellipse cx="310.7" cy="673" rx="1.8" ry="0.9" fill="#e5482b"/>
</g></g>
<rect x="334.50" y="617.60" width="20.00" height="20.60" fill="none" stroke="#555" stroke-width="0.7"/>
<text x="353.30" y="643.90" font-size="5.2" text-anchor="end" fill="#1a1a1a" color="#1a1a1a" font-family="Liberation Serif">0.052%</text>
<line x1="292.00" y1="623.00" x2="293.50" y2="623.00" stroke="#333" stroke-width="0.6"/>
<text x="290.30" y="625.00" font-size="5.6" text-anchor="end">10<tspan font-size="3.47" dy="-2.13">5</tspan></text>
<line x1="292.00" y1="636.00" x2="293.50" y2="636.00" stroke="#333" stroke-width="0.6"/>
<text x="290.30" y="638.00" font-size="5.6" text-anchor="end">10<tspan font-size="3.47" dy="-2.13">4</tspan></text>
<line x1="292.00" y1="649.40" x2="293.50" y2="649.40" stroke="#333" stroke-width="0.6"/>
<text x="290.30" y="651.40" font-size="5.6" text-anchor="end">10<tspan font-size="3.47" dy="-2.13">3</tspan></text>
<line x1="292.00" y1="663.00" x2="293.50" y2="663.00" stroke="#333" stroke-width="0.6"/>
<text x="290.30" y="665.00" font-size="5.6" text-anchor="end">10<tspan font-size="3.47" dy="-2.13">2</tspan></text>
<line x1="292.00" y1="668.00" x2="293.50" y2="668.00" stroke="#333" stroke-width="0.6"/>
<text x="288.50" y="670.00" font-size="5.6" text-anchor="end">0</text>
<line x1="292.00" y1="673.00" x2="293.50" y2="673.00" stroke="#333" stroke-width="0.6"/>
<text x="290.30" y="675.00" font-size="5.6" text-anchor="end">-10<tspan font-size="3.47" dy="-2.13">2</tspan></text>
<line x1="298.70" y1="681.00" x2="298.70" y2="682.50" stroke="#333" stroke-width="0.6"/>
<text x="298.70" y="689.00" font-size="5.6" text-anchor="middle">10<tspan font-size="3.47" dy="-2.13">3</tspan></text>
<line x1="310.10" y1="681.00" x2="310.10" y2="682.50" stroke="#333" stroke-width="0.6"/>
<text x="310.10" y="689.00" font-size="5.6" text-anchor="middle">0</text>
<line x1="316.80" y1="681.00" x2="316.80" y2="682.50" stroke="#333" stroke-width="0.6"/>
<text x="317.80" y="689.00" font-size="5.6" text-anchor="middle">10<tspan font-size="3.47" dy="-2.13">3</tspan></text>
<line x1="333.80" y1="681.00" x2="333.80" y2="682.50" stroke="#333" stroke-width="0.6"/>
<text x="334.80" y="689.00" font-size="5.6" text-anchor="middle">10<tspan font-size="3.47" dy="-2.13">4</tspan></text>
<line x1="349.90" y1="681.00" x2="349.90" y2="682.50" stroke="#333" stroke-width="0.6"/>
<text x="350.90" y="689.00" font-size="5.6" text-anchor="middle">10<tspan font-size="3.47" dy="-2.13">5</tspan></text>
<rect x="50.4" y="680.7" width="2.8" height="1.6" fill="#222" fill-opacity="0.85"/>
<rect x="35.0" y="668.0" width="1.3" height="6" fill="#222" fill-opacity="0.7"/>
<rect x="135.0" y="680.7" width="2.8" height="1.6" fill="#222" fill-opacity="0.85"/>
<rect x="119.6" y="668.0" width="1.3" height="6" fill="#222" fill-opacity="0.7"/>
<rect x="220.0" y="680.7" width="2.8" height="1.6" fill="#222" fill-opacity="0.85"/>
<rect x="204.6" y="670.0" width="1.3" height="6" fill="#222" fill-opacity="0.7"/>
<rect x="308.0" y="680.7" width="2.8" height="1.6" fill="#222" fill-opacity="0.85"/>
<rect x="292.6" y="670.0" width="1.3" height="6" fill="#222" fill-opacity="0.7"/>
<path d="M20.9,693.6V664M20.9,693.6H56.5" stroke="#222" stroke-width="1.3" fill="none"/>
<path d="M18.7,664.4L20.9,659.6L23.1,664.4Z M56,691.3L60.7,693.6L56,695.9Z" fill="#111"/>
<text x="15.60" y="675.40" font-size="10" text-anchor="middle" textLength="13.0" lengthAdjust="spacingAndGlyphs" transform="rotate(-90 15.60 675.40)">GFP</text>
<text x="41.20" y="705.30" font-size="10.2" text-anchor="middle" textLength="42.7" lengthAdjust="spacingAndGlyphs">CD34-AF647</text>
<text x="372.50" y="595.60" font-size="11.8" font-weight="bold">F</text>
<line x1="399.30" y1="605.50" x2="399.30" y2="684.20" stroke="#1a1a1a" stroke-width="1.4"/>
<line x1="399.30" y1="683.70" x2="491.70" y2="683.70" stroke="#1a1a1a" stroke-width="1.4"/>
<line x1="396.30" y1="606.20" x2="399.30" y2="606.20" stroke="#1a1a1a" stroke-width="1.0"/>
<text x="393.10" y="609.37" font-size="8.8" text-anchor="end" textLength="8.6" lengthAdjust="spacingAndGlyphs">50</text>
<line x1="396.30" y1="645.20" x2="399.30" y2="645.20" stroke="#1a1a1a" stroke-width="1.0"/>
<text x="393.10" y="648.37" font-size="8.8" text-anchor="end" textLength="8.6" lengthAdjust="spacingAndGlyphs">25</text>
<line x1="396.30" y1="683.70" x2="399.30" y2="683.70" stroke="#1a1a1a" stroke-width="1.0"/>
<text x="393.10" y="686.87" font-size="8.8" text-anchor="end" textLength="4.3" lengthAdjust="spacingAndGlyphs">0</text>
<text x="379.30" y="643.40" font-size="9.8" text-anchor="middle" textLength="35.5" lengthAdjust="spacingAndGlyphs" transform="rotate(-90 379.30 643.40)">No. of CFC</text>
<rect x="402.70" y="633.30" width="15.40" height="50.40" fill="#cdd5e6"/>
<rect x="404.20" y="626.90" width="13.90" height="6.40" fill="#fff" stroke="#111" stroke-width="0.9"/>
<line x1="411.30" y1="624.60" x2="411.30" y2="637.10" stroke="#111" stroke-width="0.9"/>
<line x1="408.30" y1="624.60" x2="414.30" y2="624.60" stroke="#111" stroke-width="0.9"/>
<line x1="408.30" y1="637.10" x2="414.30" y2="637.10" stroke="#111" stroke-width="0.9"/>
<line x1="408.30" y1="629.50" x2="414.30" y2="629.50" stroke="#111" stroke-width="0.9"/>
<rect x="425.80" y="678.50" width="14.40" height="5.20" fill="#f2c4cc"/>
<rect x="425.80" y="676.90" width="14.40" height="3.00" fill="#fff" stroke="#111" stroke-width="0.8"/>
<line x1="433.00" y1="674.60" x2="433.00" y2="681.30" stroke="#111" stroke-width="0.9"/>
<line x1="430.00" y1="674.60" x2="436.00" y2="674.60" stroke="#111" stroke-width="0.9"/>
<line x1="430.00" y1="681.30" x2="436.00" y2="681.30" stroke="#111" stroke-width="0.9"/>
<rect x="447.90" y="660.20" width="15.40" height="23.50" fill="#8c9fc4"/>
<rect x="448.50" y="658.30" width="14.30" height="3.40" fill="#fff" stroke="#111" stroke-width="0.8"/>
<line x1="456.20" y1="656.30" x2="456.20" y2="664.60" stroke="#111" stroke-width="0.9"/>
<line x1="453.20" y1="656.30" x2="459.20" y2="656.30" stroke="#111" stroke-width="0.9"/>
<line x1="453.20" y1="664.60" x2="459.20" y2="664.60" stroke="#111" stroke-width="0.9"/>
<rect x="470.40" y="682.40" width="14.60" height="1.30" fill="#bb0f36"/>
<line x1="477.70" y1="680.00" x2="477.70" y2="683.00" stroke="#111" stroke-width="0.9"/>
<line x1="474.70" y1="680.00" x2="480.70" y2="680.00" stroke="#111" stroke-width="0.9"/>
<line x1="474.70" y1="683.00" x2="480.70" y2="683.00" stroke="#111" stroke-width="0.9"/>
<rect x="474.40" y="648.60" width="5.00" height="2.90" fill="#fff" stroke="#111" stroke-width="0.8"/>
<text x="482.50" y="652.50" font-size="7.4" textLength="21.0" lengthAdjust="spacingAndGlyphs">BFU-E</text>
<rect x="474.40" y="659.80" width="5.00" height="2.90" fill="#111"/>
<text x="482.50" y="663.80" font-size="7.4" textLength="26.5" lengthAdjust="spacingAndGlyphs">CFU-GM</text>
<text x="444.30" y="602.00" font-size="7.4" text-anchor="middle" textLength="33.4" lengthAdjust="spacingAndGlyphs">P = 0.002</text>
<polyline points="413.60,609.80 413.60,603.50 473.80,603.50 473.80,609.80" fill="none" stroke="#1a1a1a" stroke-width="0.9"/>
<text x="431.00" y="615.40" font-size="7.4" text-anchor="middle" textLength="33.7" lengthAdjust="spacingAndGlyphs">P = 0.003</text>
<polyline points="413.60,623.20 413.60,617.30 450.00,617.30 450.00,632.20" fill="none" stroke="#1a1a1a" stroke-width="0.9"/>
<text x="469.70" y="621.30" font-size="7.4" text-anchor="middle" textLength="32.0" lengthAdjust="spacingAndGlyphs">P = 0.005</text>
<polyline points="451.40,629.20 451.40,623.20 472.90,623.20 472.90,635.10" fill="none" stroke="#1a1a1a" stroke-width="0.9"/>
<text x="437.40" y="639.80" font-size="7.4" text-anchor="middle" textLength="32.8" lengthAdjust="spacingAndGlyphs">P = 0.001</text>
<polyline points="421.00,642.60 421.00,642.60 433.00,642.60 433.00,650.00" fill="none" stroke="#1a1a1a" stroke-width="0.9"/>
<rect x="0.55" y="0.55" width="518.5" height="713.5" fill="none" stroke="#000" stroke-width="1.2"/>
</svg>
</body></html>
